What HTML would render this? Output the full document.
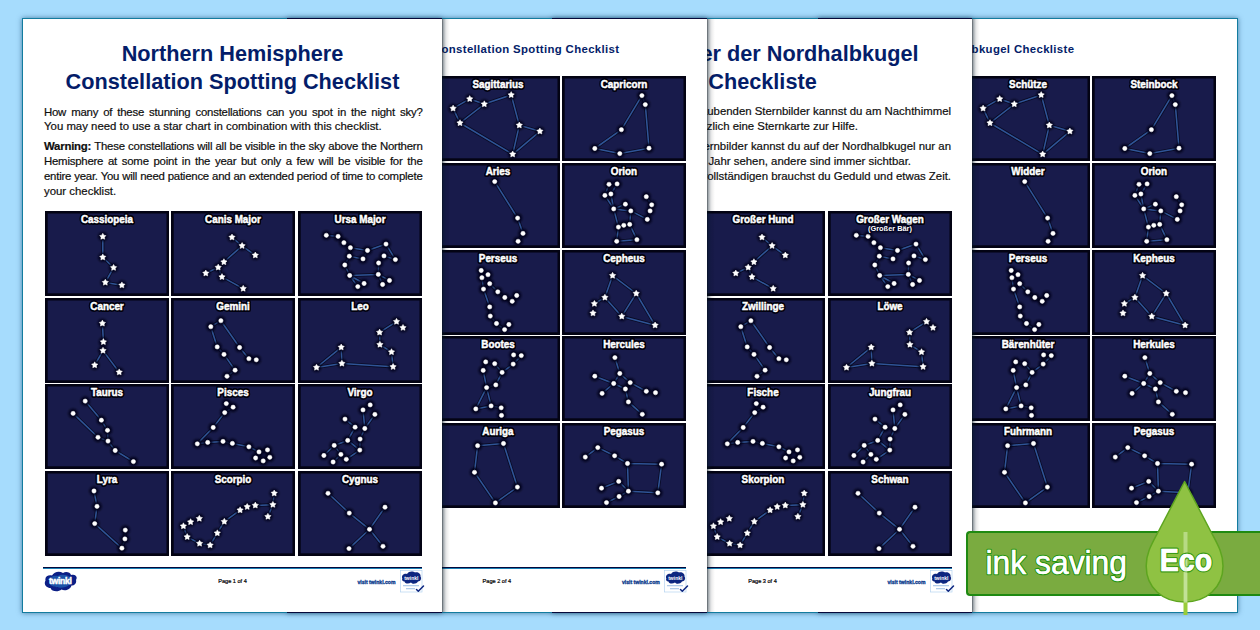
<!DOCTYPE html>
<html><head><meta charset="utf-8"><style>
html,body{margin:0;padding:0;}
body{width:1260px;height:630px;overflow:hidden;position:relative;background:#a6dcfd;font-family:"Liberation Sans",sans-serif;}
.page{position:absolute;top:18px;width:420px;height:595px;background:#fff;box-sizing:border-box;border:1px solid #137c9f;box-shadow:0 0 5px rgba(10,60,100,0.6);overflow:visible;}
.page .sh{position:absolute;top:0;right:-8px;width:8px;height:100%;background:linear-gradient(to right,rgba(0,0,0,0.55),rgba(0,0,0,0.25) 15%,rgba(0,0,0,0.08) 50%,rgba(0,0,0,0));}
.abs{position:absolute;white-space:nowrap;}
.title{font-weight:bold;color:#041d69;font-size:21.7px;line-height:1;}
.para{font-size:11.4px;color:#0e0e0e;line-height:1;-webkit-text-stroke:0.2px #0e0e0e;letter-spacing:-0.22px;}
.hdr{font-weight:bold;color:#041d69;font-size:11.4px;line-height:1;letter-spacing:0.35px;}
.cell{position:absolute;}
.st{fill:#fff;stroke:#fff;stroke-width:0.5;stroke-linejoin:round;}
.lbl{font-family:"Liberation Sans",sans-serif;font-weight:bold;font-size:10.4px;fill:#fff;text-anchor:middle;stroke:#fff;stroke-width:0.45px;}
.lblh{font-family:"Liberation Sans",sans-serif;font-weight:bold;font-size:10.4px;fill:#02030e;text-anchor:middle;stroke:#02030e;stroke-width:4px;stroke-linejoin:round;}
.subh{font-family:"Liberation Sans",sans-serif;font-weight:bold;font-size:7.4px;fill:#03041a;text-anchor:middle;stroke:#03041a;stroke-width:2.8px;stroke-linejoin:round;}
.sub{font-family:"Liberation Sans",sans-serif;font-weight:bold;font-size:7.4px;fill:#fff;text-anchor:middle;}
.fline{position:absolute;height:2px;background:linear-gradient(#05083a 50%,#1a7fb5 50%);}
.pg{position:absolute;font-size:5.6px;color:#000;white-space:nowrap;-webkit-text-stroke:0.2px #000;}
.visit{position:absolute;font-size:5.1px;font-weight:bold;color:#0b3a8c;white-space:nowrap;-webkit-text-stroke:0.3px #0b3a8c;}
</style></head><body>
<svg width="0" height="0" style="position:absolute"><defs><filter id="bl1" x="-50%" y="-50%" width="200%" height="200%"><feGaussianBlur stdDeviation="0.9"/></filter><filter id="bl2" x="-20%" y="-50%" width="140%" height="200%"><feGaussianBlur stdDeviation="0.7"/></filter></defs></svg>

<div class="page" style="left:818px;z-index:1;">
</div>
<div style="position:absolute;left:817.4px;top:0;width:419px;height:630px;z-index:1;pointer-events:none">
<svg class="cell" style="left:148.25px;top:75.80px" width="124" height="85" viewBox="0 0 124 85"><rect x="0" y="0" width="124" height="85" fill="#030313"/><rect x="2.7" y="2.5" width="118.8" height="79.8" fill="#181b4b"/><path d="M75.2 18.9L48.3 28.1 M48.3 28.1L33.7 22.9 M33.7 22.9L17.1 32.4 M17.1 32.4L24.0 47.0 M24.0 47.0L48.3 28.1 M75.2 18.9L83.3 49.3 M83.3 49.3L103.9 55.3 M83.3 49.3L76.7 78.3 M103.9 55.3L76.7 78.3 M24.0 47.0L76.7 78.3" stroke="#05061c" stroke-width="3.2" fill="none" stroke-linecap="round" opacity="0.8"/><path d="M75.2 18.9L48.3 28.1 M48.3 28.1L33.7 22.9 M33.7 22.9L17.1 32.4 M17.1 32.4L24.0 47.0 M24.0 47.0L48.3 28.1 M75.2 18.9L83.3 49.3 M83.3 49.3L103.9 55.3 M83.3 49.3L76.7 78.3 M103.9 55.3L76.7 78.3 M24.0 47.0L76.7 78.3" stroke="#2f5496" stroke-width="1.55" fill="none" stroke-linecap="round"/><g filter="url(#bl1)"><circle cx="75.2" cy="18.9" r="4.6" fill="#03041a"/><circle cx="33.7" cy="22.9" r="4.6" fill="#03041a"/><circle cx="48.3" cy="28.1" r="4.6" fill="#03041a"/><circle cx="17.1" cy="32.4" r="4.6" fill="#03041a"/><circle cx="24.0" cy="47.0" r="4.6" fill="#03041a"/><circle cx="83.3" cy="49.3" r="4.6" fill="#03041a"/><circle cx="103.9" cy="55.3" r="4.6" fill="#03041a"/><circle cx="76.7" cy="78.3" r="4.6" fill="#03041a"/></g><polygon points="75.20,15.60 76.26,17.44 78.34,17.88 76.91,19.46 77.14,21.57 75.20,20.70 73.26,21.57 73.49,19.46 72.06,17.88 74.14,17.44" class="st"/><polygon points="33.70,19.60 34.76,21.44 36.84,21.88 35.41,23.46 35.64,25.57 33.70,24.70 31.76,25.57 31.99,23.46 30.56,21.88 32.64,21.44" class="st"/><polygon points="48.30,24.80 49.36,26.64 51.44,27.08 50.01,28.66 50.24,30.77 48.30,29.90 46.36,30.77 46.59,28.66 45.16,27.08 47.24,26.64" class="st"/><polygon points="17.10,29.10 18.16,30.94 20.24,31.38 18.81,32.96 19.04,35.07 17.10,34.20 15.16,35.07 15.39,32.96 13.96,31.38 16.04,30.94" class="st"/><polygon points="24.00,43.70 25.06,45.54 27.14,45.98 25.71,47.56 25.94,49.67 24.00,48.80 22.06,49.67 22.29,47.56 20.86,45.98 22.94,45.54" class="st"/><polygon points="83.30,46.00 84.36,47.84 86.44,48.28 85.01,49.86 85.24,51.97 83.30,51.10 81.36,51.97 81.59,49.86 80.16,48.28 82.24,47.84" class="st"/><polygon points="103.90,52.00 104.96,53.84 107.04,54.28 105.61,55.86 105.84,57.97 103.90,57.10 101.96,57.97 102.19,55.86 100.76,54.28 102.84,53.84" class="st"/><polygon points="76.70,75.00 77.76,76.84 79.84,77.28 78.41,78.86 78.64,80.97 76.70,80.10 74.76,80.97 74.99,78.86 73.56,77.28 75.64,76.84" class="st"/><g transform="translate(62 0) scale(0.95 1) translate(-62 0)"><text x="62" y="12.1" class="lblh" filter="url(#bl2)">Schütze</text><text x="62" y="12.1" class="lbl">Schütze</text></g></svg>
<svg class="cell" style="left:274.50px;top:75.80px" width="124" height="85" viewBox="0 0 124 85"><rect x="0" y="0" width="124" height="85" fill="#030313"/><rect x="2.7" y="2.5" width="118.8" height="79.8" fill="#181b4b"/><path d="M79.9 19.6L59.4 53.7 M59.4 53.7L32.8 72.5 M32.8 72.5L57.8 77.6 M57.8 77.6L87.0 72.2 M87.0 72.2L83.3 28.6 M83.3 28.6L79.9 19.6" stroke="#05061c" stroke-width="3.2" fill="none" stroke-linecap="round" opacity="0.8"/><path d="M79.9 19.6L59.4 53.7 M59.4 53.7L32.8 72.5 M32.8 72.5L57.8 77.6 M57.8 77.6L87.0 72.2 M87.0 72.2L83.3 28.6 M83.3 28.6L79.9 19.6" stroke="#2f5496" stroke-width="1.55" fill="none" stroke-linecap="round"/><g filter="url(#bl1)"><circle cx="79.9" cy="19.6" r="4.6" fill="#03041a"/><circle cx="83.3" cy="28.6" r="4.6" fill="#03041a"/><circle cx="59.4" cy="53.7" r="4.6" fill="#03041a"/><circle cx="32.8" cy="72.5" r="4.6" fill="#03041a"/><circle cx="57.8" cy="77.6" r="4.6" fill="#03041a"/><circle cx="87.0" cy="72.2" r="4.6" fill="#03041a"/></g><circle cx="79.9" cy="19.6" r="2.15" class="st"/><circle cx="83.3" cy="28.6" r="2.15" class="st"/><circle cx="59.4" cy="53.7" r="2.15" class="st"/><circle cx="32.8" cy="72.5" r="2.15" class="st"/><circle cx="57.8" cy="77.6" r="2.15" class="st"/><circle cx="87.0" cy="72.2" r="2.15" class="st"/><g transform="translate(62 0) scale(0.95 1) translate(-62 0)"><text x="62" y="12.1" class="lblh" filter="url(#bl2)">Steinbock</text><text x="62" y="12.1" class="lbl">Steinbock</text></g></svg>
<svg class="cell" style="left:148.25px;top:162.65px" width="124" height="85" viewBox="0 0 124 85"><rect x="0" y="0" width="124" height="85" fill="#030313"/><rect x="2.7" y="2.5" width="118.8" height="79.8" fill="#181b4b"/><path d="M58.7 18.6L81.6 55.1 M81.6 55.1L87.0 70.4 M87.0 70.4L82.1 78.3" stroke="#05061c" stroke-width="3.2" fill="none" stroke-linecap="round" opacity="0.8"/><path d="M58.7 18.6L81.6 55.1 M81.6 55.1L87.0 70.4 M87.0 70.4L82.1 78.3" stroke="#2f5496" stroke-width="1.55" fill="none" stroke-linecap="round"/><g filter="url(#bl1)"><circle cx="58.7" cy="18.6" r="4.6" fill="#03041a"/><circle cx="81.6" cy="55.1" r="4.6" fill="#03041a"/><circle cx="87.0" cy="70.4" r="4.6" fill="#03041a"/><circle cx="82.1" cy="78.3" r="4.6" fill="#03041a"/></g><circle cx="58.7" cy="18.6" r="2.15" class="st"/><circle cx="81.6" cy="55.1" r="2.15" class="st"/><circle cx="87.0" cy="70.4" r="2.15" class="st"/><circle cx="82.1" cy="78.3" r="2.15" class="st"/><g transform="translate(62 0) scale(0.95 1) translate(-62 0)"><text x="62" y="12.1" class="lblh" filter="url(#bl2)">Widder</text><text x="62" y="12.1" class="lbl">Widder</text></g></svg>
<svg class="cell" style="left:274.50px;top:162.65px" width="124" height="85" viewBox="0 0 124 85"><rect x="0" y="0" width="124" height="85" fill="#030313"/><rect x="2.7" y="2.5" width="118.8" height="79.8" fill="#181b4b"/><path d="M47.0 21.3L55.1 20.9 M47.0 21.3L42.9 32.4 M55.1 20.9L48.9 31.0 M42.9 32.4L51.7 45.9 M48.9 31.0L51.7 45.9 M51.7 45.9L63.4 41.2 M51.7 45.9L68.8 47.9 M68.8 47.9L85.3 56.4 M84.3 33.7L89.7 41.8 M89.7 41.8L88.1 47.9 M88.1 47.9L85.3 56.4 M51.7 45.9L56.4 64.1 M68.8 47.9L67.7 61.4 M56.4 64.1L54.7 78.3 M67.7 61.4L74.9 76.7 M54.7 78.3L74.9 76.7" stroke="#05061c" stroke-width="3.2" fill="none" stroke-linecap="round" opacity="0.8"/><path d="M47.0 21.3L55.1 20.9 M47.0 21.3L42.9 32.4 M55.1 20.9L48.9 31.0 M42.9 32.4L51.7 45.9 M48.9 31.0L51.7 45.9 M51.7 45.9L63.4 41.2 M51.7 45.9L68.8 47.9 M68.8 47.9L85.3 56.4 M84.3 33.7L89.7 41.8 M89.7 41.8L88.1 47.9 M88.1 47.9L85.3 56.4 M51.7 45.9L56.4 64.1 M68.8 47.9L67.7 61.4 M56.4 64.1L54.7 78.3 M67.7 61.4L74.9 76.7 M54.7 78.3L74.9 76.7" stroke="#2f5496" stroke-width="1.55" fill="none" stroke-linecap="round"/><g filter="url(#bl1)"><circle cx="47.0" cy="21.3" r="4.6" fill="#03041a"/><circle cx="55.1" cy="20.9" r="4.6" fill="#03041a"/><circle cx="42.9" cy="32.4" r="4.6" fill="#03041a"/><circle cx="48.9" cy="31.0" r="4.6" fill="#03041a"/><circle cx="51.7" cy="45.9" r="4.6" fill="#03041a"/><circle cx="63.4" cy="41.2" r="4.6" fill="#03041a"/><circle cx="68.8" cy="47.9" r="4.6" fill="#03041a"/><circle cx="84.3" cy="33.7" r="4.6" fill="#03041a"/><circle cx="89.7" cy="41.8" r="4.6" fill="#03041a"/><circle cx="88.1" cy="47.9" r="4.6" fill="#03041a"/><circle cx="85.3" cy="56.4" r="4.6" fill="#03041a"/><circle cx="56.4" cy="64.1" r="4.6" fill="#03041a"/><circle cx="61.8" cy="62.3" r="4.6" fill="#03041a"/><circle cx="67.7" cy="61.4" r="4.6" fill="#03041a"/><circle cx="54.7" cy="78.3" r="4.6" fill="#03041a"/><circle cx="74.9" cy="76.7" r="4.6" fill="#03041a"/></g><circle cx="47.0" cy="21.3" r="2.15" class="st"/><circle cx="55.1" cy="20.9" r="2.15" class="st"/><circle cx="42.9" cy="32.4" r="2.15" class="st"/><circle cx="48.9" cy="31.0" r="2.15" class="st"/><circle cx="51.7" cy="45.9" r="2.15" class="st"/><circle cx="63.4" cy="41.2" r="2.15" class="st"/><circle cx="68.8" cy="47.9" r="2.15" class="st"/><circle cx="84.3" cy="33.7" r="2.15" class="st"/><circle cx="89.7" cy="41.8" r="2.15" class="st"/><circle cx="88.1" cy="47.9" r="2.15" class="st"/><circle cx="85.3" cy="56.4" r="2.15" class="st"/><circle cx="56.4" cy="64.1" r="2.15" class="st"/><circle cx="61.8" cy="62.3" r="2.15" class="st"/><circle cx="67.7" cy="61.4" r="2.15" class="st"/><circle cx="54.7" cy="78.3" r="2.15" class="st"/><circle cx="74.9" cy="76.7" r="2.15" class="st"/><g transform="translate(62 0) scale(0.95 1) translate(-62 0)"><text x="62" y="12.1" class="lblh" filter="url(#bl2)">Orion</text><text x="62" y="12.1" class="lbl">Orion</text></g></svg>
<svg class="cell" style="left:148.25px;top:249.50px" width="124" height="85" viewBox="0 0 124 85"><rect x="0" y="0" width="124" height="85" fill="#030313"/><rect x="2.7" y="2.5" width="118.8" height="79.8" fill="#181b4b"/><path d="M52.0 24.7L53.7 33.7 M53.7 33.7L61.8 41.8 M61.8 41.8L68.8 47.5 M68.8 47.5L76.2 51.3 M76.2 51.3L80.7 45.5 M45.9 27.7L47.5 39.1 M47.5 39.1L53.7 56.9 M53.7 56.9L54.3 66.1 M54.3 66.1L60.5 73.5 M60.5 73.5L68.6 79.6 M68.6 79.6L72.9 74.5" stroke="#05061c" stroke-width="3.2" fill="none" stroke-linecap="round" opacity="0.8"/><path d="M52.0 24.7L53.7 33.7 M53.7 33.7L61.8 41.8 M61.8 41.8L68.8 47.5 M68.8 47.5L76.2 51.3 M76.2 51.3L80.7 45.5 M45.9 27.7L47.5 39.1 M47.5 39.1L53.7 56.9 M53.7 56.9L54.3 66.1 M54.3 66.1L60.5 73.5 M60.5 73.5L68.6 79.6 M68.6 79.6L72.9 74.5" stroke="#2f5496" stroke-width="1.55" fill="none" stroke-linecap="round"/><g filter="url(#bl1)"><circle cx="45.2" cy="20.5" r="4.6" fill="#03041a"/><circle cx="45.9" cy="27.7" r="4.6" fill="#03041a"/><circle cx="52.0" cy="24.7" r="4.6" fill="#03041a"/><circle cx="53.7" cy="33.7" r="4.6" fill="#03041a"/><circle cx="47.5" cy="39.1" r="4.6" fill="#03041a"/><circle cx="61.8" cy="41.8" r="4.6" fill="#03041a"/><circle cx="68.8" cy="47.5" r="4.6" fill="#03041a"/><circle cx="76.2" cy="51.3" r="4.6" fill="#03041a"/><circle cx="80.7" cy="45.5" r="4.6" fill="#03041a"/><circle cx="53.7" cy="56.9" r="4.6" fill="#03041a"/><circle cx="54.3" cy="66.1" r="4.6" fill="#03041a"/><circle cx="60.5" cy="73.5" r="4.6" fill="#03041a"/><circle cx="68.6" cy="79.6" r="4.6" fill="#03041a"/><circle cx="72.9" cy="74.5" r="4.6" fill="#03041a"/></g><circle cx="45.2" cy="20.5" r="2.15" class="st"/><circle cx="45.9" cy="27.7" r="2.15" class="st"/><circle cx="52.0" cy="24.7" r="2.15" class="st"/><circle cx="53.7" cy="33.7" r="2.15" class="st"/><circle cx="47.5" cy="39.1" r="2.15" class="st"/><circle cx="61.8" cy="41.8" r="2.15" class="st"/><circle cx="68.8" cy="47.5" r="2.15" class="st"/><circle cx="76.2" cy="51.3" r="2.15" class="st"/><circle cx="80.7" cy="45.5" r="2.15" class="st"/><circle cx="53.7" cy="56.9" r="2.15" class="st"/><circle cx="54.3" cy="66.1" r="2.15" class="st"/><circle cx="60.5" cy="73.5" r="2.15" class="st"/><circle cx="68.6" cy="79.6" r="2.15" class="st"/><circle cx="72.9" cy="74.5" r="2.15" class="st"/><g transform="translate(62 0) scale(0.95 1) translate(-62 0)"><text x="62" y="12.1" class="lblh" filter="url(#bl2)">Perseus</text><text x="62" y="12.1" class="lbl">Perseus</text></g></svg>
<svg class="cell" style="left:274.50px;top:249.50px" width="124" height="85" viewBox="0 0 124 85"><rect x="0" y="0" width="124" height="85" fill="#030313"/><rect x="2.7" y="2.5" width="118.8" height="79.8" fill="#181b4b"/><path d="M50.6 25.6L74.2 43.5 M50.6 25.6L42.9 47.5 M42.9 47.5L32.4 53.7 M42.9 47.5L59.8 66.4 M59.8 66.4L74.2 43.5 M74.2 43.5L93.1 75.3 M59.8 66.4L93.1 75.3" stroke="#05061c" stroke-width="3.2" fill="none" stroke-linecap="round" opacity="0.8"/><path d="M50.6 25.6L74.2 43.5 M50.6 25.6L42.9 47.5 M42.9 47.5L32.4 53.7 M42.9 47.5L59.8 66.4 M59.8 66.4L74.2 43.5 M74.2 43.5L93.1 75.3 M59.8 66.4L93.1 75.3" stroke="#2f5496" stroke-width="1.55" fill="none" stroke-linecap="round"/><g filter="url(#bl1)"><circle cx="50.6" cy="25.6" r="4.6" fill="#03041a"/><circle cx="74.2" cy="43.5" r="4.6" fill="#03041a"/><circle cx="42.9" cy="47.5" r="4.6" fill="#03041a"/><circle cx="32.4" cy="53.7" r="4.6" fill="#03041a"/><circle cx="31.0" cy="63.2" r="4.6" fill="#03041a"/><circle cx="59.8" cy="66.4" r="4.6" fill="#03041a"/><circle cx="93.1" cy="75.3" r="4.6" fill="#03041a"/></g><polygon points="50.60,22.30 51.66,24.14 53.74,24.58 52.31,26.16 52.54,28.27 50.60,27.40 48.66,28.27 48.89,26.16 47.46,24.58 49.54,24.14" class="st"/><polygon points="74.20,40.20 75.26,42.04 77.34,42.48 75.91,44.06 76.14,46.17 74.20,45.30 72.26,46.17 72.49,44.06 71.06,42.48 73.14,42.04" class="st"/><polygon points="42.90,44.20 43.96,46.04 46.04,46.48 44.61,48.06 44.84,50.17 42.90,49.30 40.96,50.17 41.19,48.06 39.76,46.48 41.84,46.04" class="st"/><polygon points="32.40,50.40 33.46,52.24 35.54,52.68 34.11,54.26 34.34,56.37 32.40,55.50 30.46,56.37 30.69,54.26 29.26,52.68 31.34,52.24" class="st"/><polygon points="31.00,59.90 32.06,61.74 34.14,62.18 32.71,63.76 32.94,65.87 31.00,65.00 29.06,65.87 29.29,63.76 27.86,62.18 29.94,61.74" class="st"/><polygon points="59.80,63.10 60.86,64.94 62.94,65.38 61.51,66.96 61.74,69.07 59.80,68.20 57.86,69.07 58.09,66.96 56.66,65.38 58.74,64.94" class="st"/><polygon points="93.10,72.00 94.16,73.84 96.24,74.28 94.81,75.86 95.04,77.97 93.10,77.10 91.16,77.97 91.39,75.86 89.96,74.28 92.04,73.84" class="st"/><g transform="translate(62 0) scale(0.95 1) translate(-62 0)"><text x="62" y="12.1" class="lblh" filter="url(#bl2)">Kepheus</text><text x="62" y="12.1" class="lbl">Kepheus</text></g></svg>
<svg class="cell" style="left:148.25px;top:336.35px" width="124" height="85" viewBox="0 0 124 85"><rect x="0" y="0" width="124" height="85" fill="#030313"/><rect x="2.7" y="2.5" width="118.8" height="79.8" fill="#181b4b"/><path d="M85.3 19.6L77.2 28.1 M77.2 28.1L66.1 36.4 M66.1 36.4L58.7 27.7 M58.7 27.7L49.7 25.9 M49.7 25.9L47.2 34.4 M47.2 34.4L50.6 51.6 M66.1 36.4L59.8 48.9 M59.8 48.9L50.6 51.6 M50.6 51.6L39.8 72.9 M50.6 51.6L55.1 69.9 M39.8 72.9L55.1 69.9 M55.1 69.9L65.2 71.8 M65.2 71.8L65.5 79.4" stroke="#05061c" stroke-width="3.2" fill="none" stroke-linecap="round" opacity="0.8"/><path d="M85.3 19.6L77.2 28.1 M77.2 28.1L66.1 36.4 M66.1 36.4L58.7 27.7 M58.7 27.7L49.7 25.9 M49.7 25.9L47.2 34.4 M47.2 34.4L50.6 51.6 M66.1 36.4L59.8 48.9 M59.8 48.9L50.6 51.6 M50.6 51.6L39.8 72.9 M50.6 51.6L55.1 69.9 M39.8 72.9L55.1 69.9 M55.1 69.9L65.2 71.8 M65.2 71.8L65.5 79.4" stroke="#2f5496" stroke-width="1.55" fill="none" stroke-linecap="round"/><g filter="url(#bl1)"><circle cx="77.6" cy="18.9" r="4.6" fill="#03041a"/><circle cx="85.3" cy="19.6" r="4.6" fill="#03041a"/><circle cx="77.2" cy="28.1" r="4.6" fill="#03041a"/><circle cx="66.1" cy="36.4" r="4.6" fill="#03041a"/><circle cx="58.7" cy="27.7" r="4.6" fill="#03041a"/><circle cx="49.7" cy="25.9" r="4.6" fill="#03041a"/><circle cx="47.2" cy="34.4" r="4.6" fill="#03041a"/><circle cx="59.8" cy="48.9" r="4.6" fill="#03041a"/><circle cx="50.6" cy="51.6" r="4.6" fill="#03041a"/><circle cx="39.8" cy="72.9" r="4.6" fill="#03041a"/><circle cx="55.1" cy="69.9" r="4.6" fill="#03041a"/><circle cx="65.2" cy="71.8" r="4.6" fill="#03041a"/><circle cx="65.5" cy="79.4" r="4.6" fill="#03041a"/></g><circle cx="77.6" cy="18.9" r="2.15" class="st"/><circle cx="85.3" cy="19.6" r="2.15" class="st"/><circle cx="77.2" cy="28.1" r="2.15" class="st"/><circle cx="66.1" cy="36.4" r="2.15" class="st"/><circle cx="58.7" cy="27.7" r="2.15" class="st"/><circle cx="49.7" cy="25.9" r="2.15" class="st"/><circle cx="47.2" cy="34.4" r="2.15" class="st"/><circle cx="59.8" cy="48.9" r="2.15" class="st"/><circle cx="50.6" cy="51.6" r="2.15" class="st"/><circle cx="39.8" cy="72.9" r="2.15" class="st"/><circle cx="55.1" cy="69.9" r="2.15" class="st"/><circle cx="65.2" cy="71.8" r="2.15" class="st"/><circle cx="65.5" cy="79.4" r="2.15" class="st"/><g transform="translate(62 0) scale(0.95 1) translate(-62 0)"><text x="62" y="12.1" class="lblh" filter="url(#bl2)">Bärenhüter</text><text x="62" y="12.1" class="lbl">Bärenhüter</text></g></svg>
<svg class="cell" style="left:274.50px;top:336.35px" width="124" height="85" viewBox="0 0 124 85"><rect x="0" y="0" width="124" height="85" fill="#030313"/><rect x="2.7" y="2.5" width="118.8" height="79.8" fill="#181b4b"/><path d="M52.9 21.6L57.8 37.5 M57.8 37.5L51.7 47.5 M57.8 37.5L68.2 46.6 M32.8 40.2L51.7 47.5 M51.7 47.5L63.4 53.0 M51.7 47.5L40.1 57.4 M68.2 46.6L63.4 53.0 M68.2 46.6L84.3 55.3 M63.4 53.0L66.4 65.9 M66.4 65.9L80.3 78.3" stroke="#05061c" stroke-width="3.2" fill="none" stroke-linecap="round" opacity="0.8"/><path d="M52.9 21.6L57.8 37.5 M57.8 37.5L51.7 47.5 M57.8 37.5L68.2 46.6 M32.8 40.2L51.7 47.5 M51.7 47.5L63.4 53.0 M51.7 47.5L40.1 57.4 M68.2 46.6L63.4 53.0 M68.2 46.6L84.3 55.3 M63.4 53.0L66.4 65.9 M66.4 65.9L80.3 78.3" stroke="#2f5496" stroke-width="1.55" fill="none" stroke-linecap="round"/><g filter="url(#bl1)"><circle cx="52.9" cy="21.6" r="4.6" fill="#03041a"/><circle cx="57.8" cy="37.5" r="4.6" fill="#03041a"/><circle cx="32.8" cy="40.2" r="4.6" fill="#03041a"/><circle cx="51.7" cy="47.5" r="4.6" fill="#03041a"/><circle cx="68.2" cy="46.6" r="4.6" fill="#03041a"/><circle cx="63.4" cy="53.0" r="4.6" fill="#03041a"/><circle cx="40.1" cy="57.4" r="4.6" fill="#03041a"/><circle cx="84.3" cy="55.3" r="4.6" fill="#03041a"/><circle cx="93.5" cy="56.7" r="4.6" fill="#03041a"/><circle cx="66.4" cy="65.9" r="4.6" fill="#03041a"/><circle cx="80.3" cy="78.3" r="4.6" fill="#03041a"/></g><circle cx="52.9" cy="21.6" r="2.15" class="st"/><circle cx="57.8" cy="37.5" r="2.15" class="st"/><circle cx="32.8" cy="40.2" r="2.15" class="st"/><circle cx="51.7" cy="47.5" r="2.15" class="st"/><circle cx="68.2" cy="46.6" r="2.15" class="st"/><circle cx="63.4" cy="53.0" r="2.15" class="st"/><circle cx="40.1" cy="57.4" r="2.15" class="st"/><circle cx="84.3" cy="55.3" r="2.15" class="st"/><circle cx="93.5" cy="56.7" r="2.15" class="st"/><circle cx="66.4" cy="65.9" r="2.15" class="st"/><circle cx="80.3" cy="78.3" r="2.15" class="st"/><g transform="translate(62 0) scale(0.95 1) translate(-62 0)"><text x="62" y="12.1" class="lblh" filter="url(#bl2)">Herkules</text><text x="62" y="12.1" class="lbl">Herkules</text></g></svg>
<svg class="cell" style="left:148.25px;top:423.20px" width="124" height="85" viewBox="0 0 124 85"><rect x="0" y="0" width="124" height="85" fill="#030313"/><rect x="2.7" y="2.5" width="118.8" height="79.8" fill="#181b4b"/><path d="M41.6 22.7L67.5 20.5 M41.6 22.7L38.5 49.3 M38.5 49.3L59.4 79.9 M59.4 79.9L81.4 64.1 M81.4 64.1L67.5 20.5" stroke="#05061c" stroke-width="3.2" fill="none" stroke-linecap="round" opacity="0.8"/><path d="M41.6 22.7L67.5 20.5 M41.6 22.7L38.5 49.3 M38.5 49.3L59.4 79.9 M59.4 79.9L81.4 64.1 M81.4 64.1L67.5 20.5" stroke="#2f5496" stroke-width="1.55" fill="none" stroke-linecap="round"/><g filter="url(#bl1)"><circle cx="41.6" cy="22.7" r="4.6" fill="#03041a"/><circle cx="67.5" cy="20.5" r="4.6" fill="#03041a"/><circle cx="38.5" cy="49.3" r="4.6" fill="#03041a"/><circle cx="81.4" cy="64.1" r="4.6" fill="#03041a"/><circle cx="59.4" cy="79.9" r="4.6" fill="#03041a"/></g><circle cx="41.6" cy="22.7" r="2.15" class="st"/><circle cx="67.5" cy="20.5" r="2.15" class="st"/><circle cx="38.5" cy="49.3" r="2.15" class="st"/><circle cx="81.4" cy="64.1" r="2.15" class="st"/><circle cx="59.4" cy="79.9" r="2.15" class="st"/><g transform="translate(62 0) scale(0.95 1) translate(-62 0)"><text x="62" y="12.1" class="lblh" filter="url(#bl2)">Fuhrmann</text><text x="62" y="12.1" class="lbl">Fuhrmann</text></g></svg>
<svg class="cell" style="left:274.50px;top:423.20px" width="124" height="85" viewBox="0 0 124 85"><rect x="0" y="0" width="124" height="85" fill="#030313"/><rect x="2.7" y="2.5" width="118.8" height="79.8" fill="#181b4b"/><path d="M23.3 34.1L35.8 24.6 M35.8 24.6L52.6 32.8 M52.6 32.8L65.5 40.5 M65.5 40.5L99.6 41.2 M99.6 41.2L95.8 69.8 M95.8 69.8L66.4 68.2 M66.4 68.2L65.5 40.5 M66.4 68.2L56.7 58.4 M56.7 58.4L39.5 65.2 M66.4 68.2L57.1 73.5 M57.1 73.5L44.5 79.6" stroke="#05061c" stroke-width="3.2" fill="none" stroke-linecap="round" opacity="0.8"/><path d="M23.3 34.1L35.8 24.6 M35.8 24.6L52.6 32.8 M52.6 32.8L65.5 40.5 M65.5 40.5L99.6 41.2 M99.6 41.2L95.8 69.8 M95.8 69.8L66.4 68.2 M66.4 68.2L65.5 40.5 M66.4 68.2L56.7 58.4 M56.7 58.4L39.5 65.2 M66.4 68.2L57.1 73.5 M57.1 73.5L44.5 79.6" stroke="#2f5496" stroke-width="1.55" fill="none" stroke-linecap="round"/><g filter="url(#bl1)"><circle cx="23.3" cy="34.1" r="4.6" fill="#03041a"/><circle cx="35.8" cy="24.6" r="4.6" fill="#03041a"/><circle cx="52.6" cy="32.8" r="4.6" fill="#03041a"/><circle cx="65.5" cy="40.5" r="4.6" fill="#03041a"/><circle cx="99.6" cy="41.2" r="4.6" fill="#03041a"/><circle cx="95.8" cy="69.8" r="4.6" fill="#03041a"/><circle cx="66.4" cy="68.2" r="4.6" fill="#03041a"/><circle cx="56.7" cy="58.4" r="4.6" fill="#03041a"/><circle cx="39.5" cy="65.2" r="4.6" fill="#03041a"/><circle cx="57.1" cy="73.5" r="4.6" fill="#03041a"/><circle cx="44.5" cy="79.6" r="4.6" fill="#03041a"/></g><circle cx="23.3" cy="34.1" r="2.15" class="st"/><circle cx="35.8" cy="24.6" r="2.15" class="st"/><circle cx="52.6" cy="32.8" r="2.15" class="st"/><circle cx="65.5" cy="40.5" r="2.15" class="st"/><circle cx="99.6" cy="41.2" r="2.15" class="st"/><circle cx="95.8" cy="69.8" r="2.15" class="st"/><circle cx="66.4" cy="68.2" r="2.15" class="st"/><circle cx="56.7" cy="58.4" r="2.15" class="st"/><circle cx="39.5" cy="65.2" r="2.15" class="st"/><circle cx="57.1" cy="73.5" r="2.15" class="st"/><circle cx="44.5" cy="79.6" r="2.15" class="st"/><g transform="translate(62 0) scale(0.95 1) translate(-62 0)"><text x="62" y="12.1" class="lblh" filter="url(#bl2)">Pegasus</text><text x="62" y="12.1" class="lbl">Pegasus</text></g></svg>
<div class="abs hdr" style="top:43.65px;right:162.00px;">Sternbilder der Nordhalbkugel Checkliste</div>
<div class="fline" style="left:20px;top:567px;width:379px"></div>
<div class="pg" style="left:0;width:419px;text-align:center;top:578px">Page 4 of 4</div>
<div class="visit" style="left:334.5px;top:579px">visit twinkl.com</div>
<svg style="position:absolute;left:20.5px;top:570.5px" width="34" height="22" viewBox="0 0 34 22">
<path d="M1.5 9.5 C0.5 5.5 4.5 3.5 8 4.5 C10 1 15 -0.5 19 2 C22 0 26.5 1.5 27 4 C31.5 2.5 34 6 32 9 C33 12.5 30 15 27.5 14.5 C26.5 18.5 21 20.5 17.5 18.5 C14 21.5 7.5 20.5 6.5 17 C2 17 -0.5 13 1.5 9.5 Z" fill="#0c1f86"/>
<path d="M5 10 C5 6 10 4 14 5 C17 3 24 3.5 26 6.5 C29 8 28.5 13 25 14 C22 17 14 17.5 11 15.5 C7 15.5 5 13 5 10Z" fill="#1b52a8"/>
<text x="16.3" y="13" font-family="Liberation Sans" font-weight="bold" font-size="8.6" fill="#fff" stroke="#fff" stroke-width="0.45" text-anchor="middle" letter-spacing="-0.3">twinkl</text>
</svg>
<svg style="position:absolute;left:377px;top:570px" width="25" height="23" viewBox="0 0 25 23">
<rect x="0.5" y="0.5" width="21.5" height="21.5" fill="#fff" stroke="#b5d3ef" stroke-width="0.7"/>
<path d="M2.3 8.5 C1 5.5 4 3 7 4 C8.5 1 13 0.8 15 2.5 C17.5 1.5 21 3.5 20.5 6.5 C22 8.5 20.5 11.5 18 11.5 C16.5 14 12.5 14.5 11 12.5 C8.5 14.5 4.5 13.5 4.5 11.5 C2.5 11.5 1.5 10 2.3 8.5Z" fill="#0d2680"/>
<text x="11.3" y="9.6" font-family="Liberation Sans" font-weight="bold" font-size="5" fill="#fff" text-anchor="middle">twinkl</text>
<rect x="3" y="15.3" width="16" height="0.9" fill="#8fb5e0"/>
<rect x="6" y="18.3" width="9" height="0.9" fill="#8fb5e0"/>
<path d="M16.5 19.5 L18.3 21.3 L23.5 16" stroke="#0d2680" stroke-width="1.5" fill="none" stroke-linecap="round" stroke-linejoin="round"/>
</svg>
</div>
<div class="page" style="left:552px;z-index:2;border-right:none;">
<div class="sh"></div>
</div>
<div style="position:absolute;left:553px;top:0;width:419px;height:630px;z-index:2;pointer-events:none">
<svg class="cell" style="left:148.25px;top:210.75px" width="124" height="85" viewBox="0 0 124 85"><rect x="0" y="0" width="124" height="85" fill="#030313"/><rect x="2.7" y="2.5" width="118.8" height="79.8" fill="#181b4b"/><path d="M61.0 26.3L71.1 34.8 M71.1 34.8L84.3 44.3 M71.1 34.8L52.9 51.0 M52.9 51.0L47.2 56.4 M47.2 56.4L34.8 62.3 M47.2 56.4L51.0 65.9 M51.0 65.9L72.2 77.6" stroke="#05061c" stroke-width="3.2" fill="none" stroke-linecap="round" opacity="0.8"/><path d="M61.0 26.3L71.1 34.8 M71.1 34.8L84.3 44.3 M71.1 34.8L52.9 51.0 M52.9 51.0L47.2 56.4 M47.2 56.4L34.8 62.3 M47.2 56.4L51.0 65.9 M51.0 65.9L72.2 77.6" stroke="#2f5496" stroke-width="1.55" fill="none" stroke-linecap="round"/><g filter="url(#bl1)"><circle cx="61.0" cy="26.3" r="4.6" fill="#03041a"/><circle cx="71.1" cy="34.8" r="4.6" fill="#03041a"/><circle cx="84.3" cy="44.3" r="4.6" fill="#03041a"/><circle cx="52.9" cy="51.0" r="4.6" fill="#03041a"/><circle cx="47.2" cy="56.4" r="4.6" fill="#03041a"/><circle cx="34.8" cy="62.3" r="4.6" fill="#03041a"/><circle cx="51.0" cy="65.9" r="4.6" fill="#03041a"/><circle cx="72.2" cy="77.6" r="4.6" fill="#03041a"/></g><polygon points="61.00,23.00 62.06,24.84 64.14,25.28 62.71,26.86 62.94,28.97 61.00,28.10 59.06,28.97 59.29,26.86 57.86,25.28 59.94,24.84" class="st"/><polygon points="71.10,31.50 72.16,33.34 74.24,33.78 72.81,35.36 73.04,37.47 71.10,36.60 69.16,37.47 69.39,35.36 67.96,33.78 70.04,33.34" class="st"/><polygon points="84.30,41.00 85.36,42.84 87.44,43.28 86.01,44.86 86.24,46.97 84.30,46.10 82.36,46.97 82.59,44.86 81.16,43.28 83.24,42.84" class="st"/><polygon points="52.90,47.70 53.96,49.54 56.04,49.98 54.61,51.56 54.84,53.67 52.90,52.80 50.96,53.67 51.19,51.56 49.76,49.98 51.84,49.54" class="st"/><polygon points="47.20,53.10 48.26,54.94 50.34,55.38 48.91,56.96 49.14,59.07 47.20,58.20 45.26,59.07 45.49,56.96 44.06,55.38 46.14,54.94" class="st"/><polygon points="34.80,59.00 35.86,60.84 37.94,61.28 36.51,62.86 36.74,64.97 34.80,64.10 32.86,64.97 33.09,62.86 31.66,61.28 33.74,60.84" class="st"/><polygon points="51.00,62.60 52.06,64.44 54.14,64.88 52.71,66.46 52.94,68.57 51.00,67.70 49.06,68.57 49.29,66.46 47.86,64.88 49.94,64.44" class="st"/><polygon points="72.20,74.30 73.26,76.14 75.34,76.58 73.91,78.16 74.14,80.27 72.20,79.40 70.26,80.27 70.49,78.16 69.06,76.58 71.14,76.14" class="st"/><g transform="translate(62 0) scale(0.95 1) translate(-62 0)"><text x="62" y="12.1" class="lblh" filter="url(#bl2)">Großer Hund</text><text x="62" y="12.1" class="lbl">Großer Hund</text></g></svg>
<svg class="cell" style="left:274.50px;top:210.75px" width="124" height="85" viewBox="0 0 124 85"><rect x="0" y="0" width="124" height="85" fill="#030313"/><rect x="2.7" y="2.5" width="118.8" height="79.8" fill="#181b4b"/><path d="M28.3 24.3L40.1 25.4 M40.1 25.4L45.9 31.7 M45.9 31.7L52.4 36.7 M52.4 36.7L69.5 39.5 M69.5 39.5L88.0 33.1 M88.0 33.1L97.4 48.6 M86.0 44.9L97.4 48.6 M69.5 39.5L65.0 47.9 M51.3 45.2L65.0 47.9 M52.4 36.7L51.3 45.2 M51.3 45.2L46.8 54.0 M46.8 54.0L51.7 64.5 M51.7 64.5L80.3 63.4 M80.3 63.4L80.6 52.0 M51.7 64.5L59.8 75.6 M51.7 64.5L66.1 72.5 M80.3 63.4L84.6 73.5 M80.3 63.4L91.5 69.5" stroke="#05061c" stroke-width="3.2" fill="none" stroke-linecap="round" opacity="0.8"/><path d="M28.3 24.3L40.1 25.4 M40.1 25.4L45.9 31.7 M45.9 31.7L52.4 36.7 M52.4 36.7L69.5 39.5 M69.5 39.5L88.0 33.1 M88.0 33.1L97.4 48.6 M86.0 44.9L97.4 48.6 M69.5 39.5L65.0 47.9 M51.3 45.2L65.0 47.9 M52.4 36.7L51.3 45.2 M51.3 45.2L46.8 54.0 M46.8 54.0L51.7 64.5 M51.7 64.5L80.3 63.4 M80.3 63.4L80.6 52.0 M51.7 64.5L59.8 75.6 M51.7 64.5L66.1 72.5 M80.3 63.4L84.6 73.5 M80.3 63.4L91.5 69.5" stroke="#2f5496" stroke-width="1.55" fill="none" stroke-linecap="round"/><g filter="url(#bl1)"><circle cx="28.3" cy="24.3" r="4.6" fill="#03041a"/><circle cx="40.1" cy="25.4" r="4.6" fill="#03041a"/><circle cx="45.9" cy="31.7" r="4.6" fill="#03041a"/><circle cx="52.4" cy="36.7" r="4.6" fill="#03041a"/><circle cx="69.5" cy="39.5" r="4.6" fill="#03041a"/><circle cx="88.0" cy="33.1" r="4.6" fill="#03041a"/><circle cx="97.4" cy="48.6" r="4.6" fill="#03041a"/><circle cx="86.0" cy="44.9" r="4.6" fill="#03041a"/><circle cx="51.3" cy="45.2" r="4.6" fill="#03041a"/><circle cx="65.0" cy="47.9" r="4.6" fill="#03041a"/><circle cx="46.8" cy="54.0" r="4.6" fill="#03041a"/><circle cx="80.6" cy="52.0" r="4.6" fill="#03041a"/><circle cx="51.7" cy="64.5" r="4.6" fill="#03041a"/><circle cx="80.3" cy="63.4" r="4.6" fill="#03041a"/><circle cx="59.8" cy="75.6" r="4.6" fill="#03041a"/><circle cx="66.1" cy="72.5" r="4.6" fill="#03041a"/><circle cx="84.6" cy="73.5" r="4.6" fill="#03041a"/><circle cx="91.5" cy="69.5" r="4.6" fill="#03041a"/></g><circle cx="28.3" cy="24.3" r="2.15" class="st"/><circle cx="40.1" cy="25.4" r="2.15" class="st"/><circle cx="45.9" cy="31.7" r="2.15" class="st"/><circle cx="52.4" cy="36.7" r="2.15" class="st"/><circle cx="69.5" cy="39.5" r="2.15" class="st"/><circle cx="88.0" cy="33.1" r="2.15" class="st"/><circle cx="97.4" cy="48.6" r="2.15" class="st"/><circle cx="86.0" cy="44.9" r="2.15" class="st"/><circle cx="51.3" cy="45.2" r="2.15" class="st"/><circle cx="65.0" cy="47.9" r="2.15" class="st"/><circle cx="46.8" cy="54.0" r="2.15" class="st"/><circle cx="80.6" cy="52.0" r="2.15" class="st"/><circle cx="51.7" cy="64.5" r="2.15" class="st"/><circle cx="80.3" cy="63.4" r="2.15" class="st"/><circle cx="59.8" cy="75.6" r="2.15" class="st"/><circle cx="66.1" cy="72.5" r="2.15" class="st"/><circle cx="84.6" cy="73.5" r="2.15" class="st"/><circle cx="91.5" cy="69.5" r="2.15" class="st"/><g transform="translate(62 0) scale(0.95 1) translate(-62 0)"><text x="62" y="12.1" class="lblh" filter="url(#bl2)">Großer Wagen</text><text x="62" y="12.1" class="lbl">Großer Wagen</text></g><text x="62" y="20" class="subh" filter="url(#bl1)">(Großer Bär)</text><text x="62" y="20" class="sub">(Großer Bär)</text></svg>
<svg class="cell" style="left:148.25px;top:297.60px" width="124" height="85" viewBox="0 0 124 85"><rect x="0" y="0" width="124" height="85" fill="#030313"/><rect x="2.7" y="2.5" width="118.8" height="79.8" fill="#181b4b"/><path d="M49.9 22.7L39.8 28.7 M39.8 28.7L46.2 48.9 M46.2 48.9L53.0 56.4 M53.0 56.4L64.1 72.2 M64.1 72.2L56.0 78.3 M49.9 22.7L68.6 49.5 M68.6 49.5L77.9 60.7" stroke="#05061c" stroke-width="3.2" fill="none" stroke-linecap="round" opacity="0.8"/><path d="M49.9 22.7L39.8 28.7 M39.8 28.7L46.2 48.9 M46.2 48.9L53.0 56.4 M53.0 56.4L64.1 72.2 M64.1 72.2L56.0 78.3 M49.9 22.7L68.6 49.5 M68.6 49.5L77.9 60.7" stroke="#2f5496" stroke-width="1.55" fill="none" stroke-linecap="round"/><g filter="url(#bl1)"><circle cx="49.9" cy="22.7" r="4.6" fill="#03041a"/><circle cx="39.8" cy="28.7" r="4.6" fill="#03041a"/><circle cx="46.2" cy="48.9" r="4.6" fill="#03041a"/><circle cx="53.0" cy="56.4" r="4.6" fill="#03041a"/><circle cx="64.1" cy="72.2" r="4.6" fill="#03041a"/><circle cx="56.0" cy="78.3" r="4.6" fill="#03041a"/><circle cx="68.6" cy="49.5" r="4.6" fill="#03041a"/><circle cx="77.9" cy="60.7" r="4.6" fill="#03041a"/><circle cx="85.3" cy="61.8" r="4.6" fill="#03041a"/></g><circle cx="49.9" cy="22.7" r="2.15" class="st"/><circle cx="39.8" cy="28.7" r="2.15" class="st"/><circle cx="46.2" cy="48.9" r="2.15" class="st"/><circle cx="53.0" cy="56.4" r="2.15" class="st"/><circle cx="64.1" cy="72.2" r="2.15" class="st"/><circle cx="56.0" cy="78.3" r="2.15" class="st"/><circle cx="68.6" cy="49.5" r="2.15" class="st"/><circle cx="77.9" cy="60.7" r="2.15" class="st"/><circle cx="85.3" cy="61.8" r="2.15" class="st"/><g transform="translate(62 0) scale(0.95 1) translate(-62 0)"><text x="62" y="12.1" class="lblh" filter="url(#bl2)">Zwillinge</text><text x="62" y="12.1" class="lbl">Zwillinge</text></g></svg>
<svg class="cell" style="left:274.50px;top:297.60px" width="124" height="85" viewBox="0 0 124 85"><rect x="0" y="0" width="124" height="85" fill="#030313"/><rect x="2.7" y="2.5" width="118.8" height="79.8" fill="#181b4b"/><path d="M18.5 69.5L43.2 49.3 M18.5 69.5L43.9 65.5 M43.2 49.3L43.9 65.5 M43.9 65.5L95.1 68.8 M95.1 68.8L93.5 54.0 M93.5 54.0L81.9 46.6 M81.9 46.6L81.6 34.4 M81.6 34.4L98.5 23.6" stroke="#05061c" stroke-width="3.2" fill="none" stroke-linecap="round" opacity="0.8"/><path d="M18.5 69.5L43.2 49.3 M18.5 69.5L43.9 65.5 M43.2 49.3L43.9 65.5 M43.9 65.5L95.1 68.8 M95.1 68.8L93.5 54.0 M93.5 54.0L81.9 46.6 M81.9 46.6L81.6 34.4 M81.6 34.4L98.5 23.6" stroke="#2f5496" stroke-width="1.55" fill="none" stroke-linecap="round"/><g filter="url(#bl1)"><circle cx="18.5" cy="69.5" r="4.6" fill="#03041a"/><circle cx="43.2" cy="49.3" r="4.6" fill="#03041a"/><circle cx="43.9" cy="65.5" r="4.6" fill="#03041a"/><circle cx="95.1" cy="68.8" r="4.6" fill="#03041a"/><circle cx="93.5" cy="54.0" r="4.6" fill="#03041a"/><circle cx="81.9" cy="46.6" r="4.6" fill="#03041a"/><circle cx="81.6" cy="34.4" r="4.6" fill="#03041a"/><circle cx="98.5" cy="23.6" r="4.6" fill="#03041a"/><circle cx="105.0" cy="29.7" r="4.6" fill="#03041a"/></g><polygon points="18.50,66.20 19.56,68.04 21.64,68.48 20.21,70.06 20.44,72.17 18.50,71.30 16.56,72.17 16.79,70.06 15.36,68.48 17.44,68.04" class="st"/><polygon points="43.20,46.00 44.26,47.84 46.34,48.28 44.91,49.86 45.14,51.97 43.20,51.10 41.26,51.97 41.49,49.86 40.06,48.28 42.14,47.84" class="st"/><polygon points="43.90,62.20 44.96,64.04 47.04,64.48 45.61,66.06 45.84,68.17 43.90,67.30 41.96,68.17 42.19,66.06 40.76,64.48 42.84,64.04" class="st"/><polygon points="95.10,65.50 96.16,67.34 98.24,67.78 96.81,69.36 97.04,71.47 95.10,70.60 93.16,71.47 93.39,69.36 91.96,67.78 94.04,67.34" class="st"/><polygon points="93.50,50.70 94.56,52.54 96.64,52.98 95.21,54.56 95.44,56.67 93.50,55.80 91.56,56.67 91.79,54.56 90.36,52.98 92.44,52.54" class="st"/><polygon points="81.90,43.30 82.96,45.14 85.04,45.58 83.61,47.16 83.84,49.27 81.90,48.40 79.96,49.27 80.19,47.16 78.76,45.58 80.84,45.14" class="st"/><polygon points="81.60,31.10 82.66,32.94 84.74,33.38 83.31,34.96 83.54,37.07 81.60,36.20 79.66,37.07 79.89,34.96 78.46,33.38 80.54,32.94" class="st"/><polygon points="98.50,20.30 99.56,22.14 101.64,22.58 100.21,24.16 100.44,26.27 98.50,25.40 96.56,26.27 96.79,24.16 95.36,22.58 97.44,22.14" class="st"/><polygon points="105.00,26.40 106.06,28.24 108.14,28.68 106.71,30.26 106.94,32.37 105.00,31.50 103.06,32.37 103.29,30.26 101.86,28.68 103.94,28.24" class="st"/><g transform="translate(62 0) scale(0.95 1) translate(-62 0)"><text x="62" y="12.1" class="lblh" filter="url(#bl2)">Löwe</text><text x="62" y="12.1" class="lbl">Löwe</text></g></svg>
<svg class="cell" style="left:148.25px;top:384.45px" width="124" height="85" viewBox="0 0 124 85"><rect x="0" y="0" width="124" height="85" fill="#030313"/><rect x="2.7" y="2.5" width="118.8" height="79.8" fill="#181b4b"/><path d="M62.1 23.2L53.7 28.6 M53.7 28.6L42.2 43.5 M42.2 43.5L26.3 59.8 M26.3 59.8L36.7 58.4 M36.7 58.4L52.0 57.4 M52.0 57.4L61.4 59.4 M61.4 59.4L77.9 62.8 M77.9 62.8L88.0 67.9 M88.0 67.9L96.5 65.9 M96.5 65.9L98.8 73.3 M98.8 73.3L92.2 76.9 M92.2 76.9L84.6 74.0 M84.6 74.0L88.0 67.9" stroke="#05061c" stroke-width="3.2" fill="none" stroke-linecap="round" opacity="0.8"/><path d="M62.1 23.2L53.7 28.6 M53.7 28.6L42.2 43.5 M42.2 43.5L26.3 59.8 M26.3 59.8L36.7 58.4 M36.7 58.4L52.0 57.4 M52.0 57.4L61.4 59.4 M61.4 59.4L77.9 62.8 M77.9 62.8L88.0 67.9 M88.0 67.9L96.5 65.9 M96.5 65.9L98.8 73.3 M98.8 73.3L92.2 76.9 M92.2 76.9L84.6 74.0 M84.6 74.0L88.0 67.9" stroke="#2f5496" stroke-width="1.55" fill="none" stroke-linecap="round"/><g filter="url(#bl1)"><circle cx="55.3" cy="19.6" r="4.6" fill="#03041a"/><circle cx="62.1" cy="23.2" r="4.6" fill="#03041a"/><circle cx="53.7" cy="28.6" r="4.6" fill="#03041a"/><circle cx="42.2" cy="43.5" r="4.6" fill="#03041a"/><circle cx="26.3" cy="59.8" r="4.6" fill="#03041a"/><circle cx="36.7" cy="58.4" r="4.6" fill="#03041a"/><circle cx="52.0" cy="57.4" r="4.6" fill="#03041a"/><circle cx="61.4" cy="59.4" r="4.6" fill="#03041a"/><circle cx="77.9" cy="62.8" r="4.6" fill="#03041a"/><circle cx="88.0" cy="67.9" r="4.6" fill="#03041a"/><circle cx="96.5" cy="65.9" r="4.6" fill="#03041a"/><circle cx="98.8" cy="73.3" r="4.6" fill="#03041a"/><circle cx="92.2" cy="76.9" r="4.6" fill="#03041a"/><circle cx="84.6" cy="74.0" r="4.6" fill="#03041a"/></g><circle cx="55.3" cy="19.6" r="2.15" class="st"/><circle cx="62.1" cy="23.2" r="2.15" class="st"/><circle cx="53.7" cy="28.6" r="2.15" class="st"/><circle cx="42.2" cy="43.5" r="2.15" class="st"/><circle cx="26.3" cy="59.8" r="2.15" class="st"/><circle cx="36.7" cy="58.4" r="2.15" class="st"/><circle cx="52.0" cy="57.4" r="2.15" class="st"/><circle cx="61.4" cy="59.4" r="2.15" class="st"/><circle cx="77.9" cy="62.8" r="2.15" class="st"/><circle cx="88.0" cy="67.9" r="2.15" class="st"/><circle cx="96.5" cy="65.9" r="2.15" class="st"/><circle cx="98.8" cy="73.3" r="2.15" class="st"/><circle cx="92.2" cy="76.9" r="2.15" class="st"/><circle cx="84.6" cy="74.0" r="2.15" class="st"/><g transform="translate(62 0) scale(0.95 1) translate(-62 0)"><text x="62" y="12.1" class="lblh" filter="url(#bl2)">Fische</text><text x="62" y="12.1" class="lbl">Fische</text></g></svg>
<svg class="cell" style="left:274.50px;top:384.45px" width="124" height="85" viewBox="0 0 124 85"><rect x="0" y="0" width="124" height="85" fill="#030313"/><rect x="2.7" y="2.5" width="118.8" height="79.8" fill="#181b4b"/><path d="M65.0 25.9L66.8 44.5 M76.9 30.4L66.8 44.5 M47.0 35.1L57.1 43.2 M57.1 43.2L49.7 56.4 M66.8 44.5L62.1 55.1 M62.1 55.1L61.8 66.1 M49.7 56.4L36.2 61.4 M49.7 56.4L61.8 66.1 M36.2 61.4L25.9 71.5 M36.2 61.4L42.9 70.4 M42.9 70.4L35.1 78.0 M61.8 66.1L48.3 75.3" stroke="#05061c" stroke-width="3.2" fill="none" stroke-linecap="round" opacity="0.8"/><path d="M65.0 25.9L66.8 44.5 M76.9 30.4L66.8 44.5 M47.0 35.1L57.1 43.2 M57.1 43.2L49.7 56.4 M66.8 44.5L62.1 55.1 M62.1 55.1L61.8 66.1 M49.7 56.4L36.2 61.4 M49.7 56.4L61.8 66.1 M36.2 61.4L25.9 71.5 M36.2 61.4L42.9 70.4 M42.9 70.4L35.1 78.0 M61.8 66.1L48.3 75.3" stroke="#2f5496" stroke-width="1.55" fill="none" stroke-linecap="round"/><g filter="url(#bl1)"><circle cx="72.2" cy="20.9" r="4.6" fill="#03041a"/><circle cx="65.0" cy="25.9" r="4.6" fill="#03041a"/><circle cx="76.9" cy="30.4" r="4.6" fill="#03041a"/><circle cx="47.0" cy="35.1" r="4.6" fill="#03041a"/><circle cx="57.1" cy="43.2" r="4.6" fill="#03041a"/><circle cx="66.8" cy="44.5" r="4.6" fill="#03041a"/><circle cx="62.1" cy="55.1" r="4.6" fill="#03041a"/><circle cx="49.7" cy="56.4" r="4.6" fill="#03041a"/><circle cx="36.2" cy="61.4" r="4.6" fill="#03041a"/><circle cx="61.8" cy="66.1" r="4.6" fill="#03041a"/><circle cx="25.9" cy="71.5" r="4.6" fill="#03041a"/><circle cx="42.9" cy="70.4" r="4.6" fill="#03041a"/><circle cx="48.3" cy="75.3" r="4.6" fill="#03041a"/><circle cx="35.1" cy="78.0" r="4.6" fill="#03041a"/></g><circle cx="72.2" cy="20.9" r="2.15" class="st"/><circle cx="65.0" cy="25.9" r="2.15" class="st"/><circle cx="76.9" cy="30.4" r="2.15" class="st"/><circle cx="47.0" cy="35.1" r="2.15" class="st"/><circle cx="57.1" cy="43.2" r="2.15" class="st"/><circle cx="66.8" cy="44.5" r="2.15" class="st"/><circle cx="62.1" cy="55.1" r="2.15" class="st"/><circle cx="49.7" cy="56.4" r="2.15" class="st"/><circle cx="36.2" cy="61.4" r="2.15" class="st"/><circle cx="61.8" cy="66.1" r="2.15" class="st"/><circle cx="25.9" cy="71.5" r="2.15" class="st"/><circle cx="42.9" cy="70.4" r="2.15" class="st"/><circle cx="48.3" cy="75.3" r="2.15" class="st"/><circle cx="35.1" cy="78.0" r="2.15" class="st"/><g transform="translate(62 0) scale(0.95 1) translate(-62 0)"><text x="62" y="12.1" class="lblh" filter="url(#bl2)">Jungfrau</text><text x="62" y="12.1" class="lbl">Jungfrau</text></g></svg>
<svg class="cell" style="left:148.25px;top:471.30px" width="124" height="85" viewBox="0 0 124 85"><rect x="0" y="0" width="124" height="85" fill="#030313"/><rect x="2.7" y="2.5" width="118.8" height="79.8" fill="#181b4b"/><path d="M103.2 22.3L101.9 33.7 M101.9 33.7L96.9 45.6 M101.9 33.7L84.3 34.4 M84.3 34.4L76.2 35.8 M76.2 35.8L69.1 39.1 M69.1 39.1L53.3 50.6 M53.3 50.6L46.3 62.1 M46.3 62.1L39.1 74.2 M39.1 74.2L28.6 72.5 M28.6 72.5L16.2 65.9 M16.2 65.9L12.4 55.1" stroke="#05061c" stroke-width="3.2" fill="none" stroke-linecap="round" opacity="0.8"/><path d="M103.2 22.3L101.9 33.7 M101.9 33.7L96.9 45.6 M101.9 33.7L84.3 34.4 M84.3 34.4L76.2 35.8 M76.2 35.8L69.1 39.1 M69.1 39.1L53.3 50.6 M53.3 50.6L46.3 62.1 M46.3 62.1L39.1 74.2 M39.1 74.2L28.6 72.5 M28.6 72.5L16.2 65.9 M16.2 65.9L12.4 55.1" stroke="#2f5496" stroke-width="1.55" fill="none" stroke-linecap="round"/><g filter="url(#bl1)"><circle cx="103.2" cy="22.3" r="4.6" fill="#03041a"/><circle cx="101.9" cy="33.7" r="4.6" fill="#03041a"/><circle cx="96.9" cy="45.6" r="4.6" fill="#03041a"/><circle cx="84.3" cy="34.4" r="4.6" fill="#03041a"/><circle cx="76.2" cy="35.8" r="4.6" fill="#03041a"/><circle cx="69.1" cy="39.1" r="4.6" fill="#03041a"/><circle cx="53.3" cy="50.6" r="4.6" fill="#03041a"/><circle cx="46.3" cy="62.1" r="4.6" fill="#03041a"/><circle cx="39.1" cy="74.2" r="4.6" fill="#03041a"/><circle cx="28.6" cy="72.5" r="4.6" fill="#03041a"/><circle cx="16.2" cy="65.9" r="4.6" fill="#03041a"/><circle cx="12.4" cy="55.1" r="4.6" fill="#03041a"/><circle cx="19.6" cy="51.0" r="4.6" fill="#03041a"/><circle cx="28.3" cy="47.6" r="4.6" fill="#03041a"/></g><polygon points="103.20,19.00 104.26,20.84 106.34,21.28 104.91,22.86 105.14,24.97 103.20,24.10 101.26,24.97 101.49,22.86 100.06,21.28 102.14,20.84" class="st"/><polygon points="101.90,30.40 102.96,32.24 105.04,32.68 103.61,34.26 103.84,36.37 101.90,35.50 99.96,36.37 100.19,34.26 98.76,32.68 100.84,32.24" class="st"/><polygon points="96.90,42.30 97.96,44.14 100.04,44.58 98.61,46.16 98.84,48.27 96.90,47.40 94.96,48.27 95.19,46.16 93.76,44.58 95.84,44.14" class="st"/><polygon points="84.30,31.10 85.36,32.94 87.44,33.38 86.01,34.96 86.24,37.07 84.30,36.20 82.36,37.07 82.59,34.96 81.16,33.38 83.24,32.94" class="st"/><polygon points="76.20,32.50 77.26,34.34 79.34,34.78 77.91,36.36 78.14,38.47 76.20,37.60 74.26,38.47 74.49,36.36 73.06,34.78 75.14,34.34" class="st"/><polygon points="69.10,35.80 70.16,37.64 72.24,38.08 70.81,39.66 71.04,41.77 69.10,40.90 67.16,41.77 67.39,39.66 65.96,38.08 68.04,37.64" class="st"/><polygon points="53.30,47.30 54.36,49.14 56.44,49.58 55.01,51.16 55.24,53.27 53.30,52.40 51.36,53.27 51.59,51.16 50.16,49.58 52.24,49.14" class="st"/><polygon points="46.30,58.80 47.36,60.64 49.44,61.08 48.01,62.66 48.24,64.77 46.30,63.90 44.36,64.77 44.59,62.66 43.16,61.08 45.24,60.64" class="st"/><polygon points="39.10,70.90 40.16,72.74 42.24,73.18 40.81,74.76 41.04,76.87 39.10,76.00 37.16,76.87 37.39,74.76 35.96,73.18 38.04,72.74" class="st"/><polygon points="28.60,69.20 29.66,71.04 31.74,71.48 30.31,73.06 30.54,75.17 28.60,74.30 26.66,75.17 26.89,73.06 25.46,71.48 27.54,71.04" class="st"/><polygon points="16.20,62.60 17.26,64.44 19.34,64.88 17.91,66.46 18.14,68.57 16.20,67.70 14.26,68.57 14.49,66.46 13.06,64.88 15.14,64.44" class="st"/><polygon points="12.40,51.80 13.46,53.64 15.54,54.08 14.11,55.66 14.34,57.77 12.40,56.90 10.46,57.77 10.69,55.66 9.26,54.08 11.34,53.64" class="st"/><polygon points="19.60,47.70 20.66,49.54 22.74,49.98 21.31,51.56 21.54,53.67 19.60,52.80 17.66,53.67 17.89,51.56 16.46,49.98 18.54,49.54" class="st"/><polygon points="28.30,44.30 29.36,46.14 31.44,46.58 30.01,48.16 30.24,50.27 28.30,49.40 26.36,50.27 26.59,48.16 25.16,46.58 27.24,46.14" class="st"/><g transform="translate(62 0) scale(0.95 1) translate(-62 0)"><text x="62" y="12.1" class="lblh" filter="url(#bl2)">Skorpion</text><text x="62" y="12.1" class="lbl">Skorpion</text></g></svg>
<svg class="cell" style="left:274.50px;top:471.30px" width="124" height="85" viewBox="0 0 124 85"><rect x="0" y="0" width="124" height="85" fill="#030313"/><rect x="2.7" y="2.5" width="118.8" height="79.8" fill="#181b4b"/><path d="M30.0 22.3L51.3 42.1 M51.3 42.1L71.5 58.3 M71.5 58.3L85.0 75.3 M87.0 36.2L71.5 58.3 M71.5 58.3L51.0 77.6" stroke="#05061c" stroke-width="3.2" fill="none" stroke-linecap="round" opacity="0.8"/><path d="M30.0 22.3L51.3 42.1 M51.3 42.1L71.5 58.3 M71.5 58.3L85.0 75.3 M87.0 36.2L71.5 58.3 M71.5 58.3L51.0 77.6" stroke="#2f5496" stroke-width="1.55" fill="none" stroke-linecap="round"/><g filter="url(#bl1)"><circle cx="30.0" cy="22.3" r="4.6" fill="#03041a"/><circle cx="51.3" cy="42.1" r="4.6" fill="#03041a"/><circle cx="71.5" cy="58.3" r="4.6" fill="#03041a"/><circle cx="85.0" cy="75.3" r="4.6" fill="#03041a"/><circle cx="87.0" cy="36.2" r="4.6" fill="#03041a"/><circle cx="51.0" cy="77.6" r="4.6" fill="#03041a"/></g><circle cx="30.0" cy="22.3" r="2.15" class="st"/><circle cx="51.3" cy="42.1" r="2.15" class="st"/><circle cx="71.5" cy="58.3" r="2.15" class="st"/><circle cx="85.0" cy="75.3" r="2.15" class="st"/><circle cx="87.0" cy="36.2" r="2.15" class="st"/><circle cx="51.0" cy="77.6" r="2.15" class="st"/><g transform="translate(62 0) scale(0.95 1) translate(-62 0)"><text x="62" y="12.1" class="lblh" filter="url(#bl2)">Schwan</text><text x="62" y="12.1" class="lbl">Schwan</text></g></svg>
<div class="abs title" style="top:42.63px;left:0.00px;width:419.00px;text-align:center;text-align-last:center;">Sternbilder der Nordhalbkugel</div><div class="abs title" style="top:70.63px;left:0.00px;width:419.00px;text-align:center;text-align-last:center;">Checkliste</div><div class="abs para" style="top:106.05px;right:21.00px;letter-spacing:0;">Wie viele dieser atemberaubenden Sternbilder kannst du am Nachthimmel</div><div class="abs para" style="top:120.55px;right:114.00px;letter-spacing:0;">entdecken? Nimm dir zusätzlich eine Sternkarte zur Hilfe.</div><div class="abs para" style="top:141.45px;right:21.00px;letter-spacing:0;"><b>Achtung:</b> Diese Sternbilder kannst du auf der Nordhalbkugel nur an</div><div class="abs para" style="top:156.25px;right:61.00px;letter-spacing:0;">bestimmten Tagen im Jahr sehen, andere sind immer sichtbar.</div><div class="abs para" style="top:171.15px;right:21.00px;letter-spacing:0;">Um die Liste zu vervollständigen brauchst du Geduld und etwas Zeit.</div>
<div class="fline" style="left:20px;top:567px;width:379px"></div>
<div class="pg" style="left:0;width:419px;text-align:center;top:578px">Page 3 of 4</div>
<div class="visit" style="left:334.5px;top:579px">visit twinkl.com</div>
<svg style="position:absolute;left:20.5px;top:570.5px" width="34" height="22" viewBox="0 0 34 22">
<path d="M1.5 9.5 C0.5 5.5 4.5 3.5 8 4.5 C10 1 15 -0.5 19 2 C22 0 26.5 1.5 27 4 C31.5 2.5 34 6 32 9 C33 12.5 30 15 27.5 14.5 C26.5 18.5 21 20.5 17.5 18.5 C14 21.5 7.5 20.5 6.5 17 C2 17 -0.5 13 1.5 9.5 Z" fill="#0c1f86"/>
<path d="M5 10 C5 6 10 4 14 5 C17 3 24 3.5 26 6.5 C29 8 28.5 13 25 14 C22 17 14 17.5 11 15.5 C7 15.5 5 13 5 10Z" fill="#1b52a8"/>
<text x="16.3" y="13" font-family="Liberation Sans" font-weight="bold" font-size="8.6" fill="#fff" stroke="#fff" stroke-width="0.45" text-anchor="middle" letter-spacing="-0.3">twinkl</text>
</svg>
<svg style="position:absolute;left:377px;top:570px" width="25" height="23" viewBox="0 0 25 23">
<rect x="0.5" y="0.5" width="21.5" height="21.5" fill="#fff" stroke="#b5d3ef" stroke-width="0.7"/>
<path d="M2.3 8.5 C1 5.5 4 3 7 4 C8.5 1 13 0.8 15 2.5 C17.5 1.5 21 3.5 20.5 6.5 C22 8.5 20.5 11.5 18 11.5 C16.5 14 12.5 14.5 11 12.5 C8.5 14.5 4.5 13.5 4.5 11.5 C2.5 11.5 1.5 10 2.3 8.5Z" fill="#0d2680"/>
<text x="11.3" y="9.6" font-family="Liberation Sans" font-weight="bold" font-size="5" fill="#fff" text-anchor="middle">twinkl</text>
<rect x="3" y="15.3" width="16" height="0.9" fill="#8fb5e0"/>
<rect x="6" y="18.3" width="9" height="0.9" fill="#8fb5e0"/>
<path d="M16.5 19.5 L18.3 21.3 L23.5 16" stroke="#0d2680" stroke-width="1.5" fill="none" stroke-linecap="round" stroke-linejoin="round"/>
</svg>
</div>
<div class="page" style="left:287px;z-index:3;border-right:none;">
<div class="sh"></div>
</div>
<div style="position:absolute;left:287.4px;top:0;width:419px;height:630px;z-index:3;pointer-events:none">
<svg class="cell" style="left:148.25px;top:75.80px" width="124" height="85" viewBox="0 0 124 85"><rect x="0" y="0" width="124" height="85" fill="#030313"/><rect x="2.7" y="2.5" width="118.8" height="79.8" fill="#181b4b"/><path d="M75.2 18.9L48.3 28.1 M48.3 28.1L33.7 22.9 M33.7 22.9L17.1 32.4 M17.1 32.4L24.0 47.0 M24.0 47.0L48.3 28.1 M75.2 18.9L83.3 49.3 M83.3 49.3L103.9 55.3 M83.3 49.3L76.7 78.3 M103.9 55.3L76.7 78.3 M24.0 47.0L76.7 78.3" stroke="#05061c" stroke-width="3.2" fill="none" stroke-linecap="round" opacity="0.8"/><path d="M75.2 18.9L48.3 28.1 M48.3 28.1L33.7 22.9 M33.7 22.9L17.1 32.4 M17.1 32.4L24.0 47.0 M24.0 47.0L48.3 28.1 M75.2 18.9L83.3 49.3 M83.3 49.3L103.9 55.3 M83.3 49.3L76.7 78.3 M103.9 55.3L76.7 78.3 M24.0 47.0L76.7 78.3" stroke="#2f5496" stroke-width="1.55" fill="none" stroke-linecap="round"/><g filter="url(#bl1)"><circle cx="75.2" cy="18.9" r="4.6" fill="#03041a"/><circle cx="33.7" cy="22.9" r="4.6" fill="#03041a"/><circle cx="48.3" cy="28.1" r="4.6" fill="#03041a"/><circle cx="17.1" cy="32.4" r="4.6" fill="#03041a"/><circle cx="24.0" cy="47.0" r="4.6" fill="#03041a"/><circle cx="83.3" cy="49.3" r="4.6" fill="#03041a"/><circle cx="103.9" cy="55.3" r="4.6" fill="#03041a"/><circle cx="76.7" cy="78.3" r="4.6" fill="#03041a"/></g><polygon points="75.20,15.60 76.26,17.44 78.34,17.88 76.91,19.46 77.14,21.57 75.20,20.70 73.26,21.57 73.49,19.46 72.06,17.88 74.14,17.44" class="st"/><polygon points="33.70,19.60 34.76,21.44 36.84,21.88 35.41,23.46 35.64,25.57 33.70,24.70 31.76,25.57 31.99,23.46 30.56,21.88 32.64,21.44" class="st"/><polygon points="48.30,24.80 49.36,26.64 51.44,27.08 50.01,28.66 50.24,30.77 48.30,29.90 46.36,30.77 46.59,28.66 45.16,27.08 47.24,26.64" class="st"/><polygon points="17.10,29.10 18.16,30.94 20.24,31.38 18.81,32.96 19.04,35.07 17.10,34.20 15.16,35.07 15.39,32.96 13.96,31.38 16.04,30.94" class="st"/><polygon points="24.00,43.70 25.06,45.54 27.14,45.98 25.71,47.56 25.94,49.67 24.00,48.80 22.06,49.67 22.29,47.56 20.86,45.98 22.94,45.54" class="st"/><polygon points="83.30,46.00 84.36,47.84 86.44,48.28 85.01,49.86 85.24,51.97 83.30,51.10 81.36,51.97 81.59,49.86 80.16,48.28 82.24,47.84" class="st"/><polygon points="103.90,52.00 104.96,53.84 107.04,54.28 105.61,55.86 105.84,57.97 103.90,57.10 101.96,57.97 102.19,55.86 100.76,54.28 102.84,53.84" class="st"/><polygon points="76.70,75.00 77.76,76.84 79.84,77.28 78.41,78.86 78.64,80.97 76.70,80.10 74.76,80.97 74.99,78.86 73.56,77.28 75.64,76.84" class="st"/><g transform="translate(62 0) scale(0.95 1) translate(-62 0)"><text x="62" y="12.1" class="lblh" filter="url(#bl2)">Sagittarius</text><text x="62" y="12.1" class="lbl">Sagittarius</text></g></svg>
<svg class="cell" style="left:274.50px;top:75.80px" width="124" height="85" viewBox="0 0 124 85"><rect x="0" y="0" width="124" height="85" fill="#030313"/><rect x="2.7" y="2.5" width="118.8" height="79.8" fill="#181b4b"/><path d="M79.9 19.6L59.4 53.7 M59.4 53.7L32.8 72.5 M32.8 72.5L57.8 77.6 M57.8 77.6L87.0 72.2 M87.0 72.2L83.3 28.6 M83.3 28.6L79.9 19.6" stroke="#05061c" stroke-width="3.2" fill="none" stroke-linecap="round" opacity="0.8"/><path d="M79.9 19.6L59.4 53.7 M59.4 53.7L32.8 72.5 M32.8 72.5L57.8 77.6 M57.8 77.6L87.0 72.2 M87.0 72.2L83.3 28.6 M83.3 28.6L79.9 19.6" stroke="#2f5496" stroke-width="1.55" fill="none" stroke-linecap="round"/><g filter="url(#bl1)"><circle cx="79.9" cy="19.6" r="4.6" fill="#03041a"/><circle cx="83.3" cy="28.6" r="4.6" fill="#03041a"/><circle cx="59.4" cy="53.7" r="4.6" fill="#03041a"/><circle cx="32.8" cy="72.5" r="4.6" fill="#03041a"/><circle cx="57.8" cy="77.6" r="4.6" fill="#03041a"/><circle cx="87.0" cy="72.2" r="4.6" fill="#03041a"/></g><circle cx="79.9" cy="19.6" r="2.15" class="st"/><circle cx="83.3" cy="28.6" r="2.15" class="st"/><circle cx="59.4" cy="53.7" r="2.15" class="st"/><circle cx="32.8" cy="72.5" r="2.15" class="st"/><circle cx="57.8" cy="77.6" r="2.15" class="st"/><circle cx="87.0" cy="72.2" r="2.15" class="st"/><g transform="translate(62 0) scale(0.95 1) translate(-62 0)"><text x="62" y="12.1" class="lblh" filter="url(#bl2)">Capricorn</text><text x="62" y="12.1" class="lbl">Capricorn</text></g></svg>
<svg class="cell" style="left:148.25px;top:162.65px" width="124" height="85" viewBox="0 0 124 85"><rect x="0" y="0" width="124" height="85" fill="#030313"/><rect x="2.7" y="2.5" width="118.8" height="79.8" fill="#181b4b"/><path d="M58.7 18.6L81.6 55.1 M81.6 55.1L87.0 70.4 M87.0 70.4L82.1 78.3" stroke="#05061c" stroke-width="3.2" fill="none" stroke-linecap="round" opacity="0.8"/><path d="M58.7 18.6L81.6 55.1 M81.6 55.1L87.0 70.4 M87.0 70.4L82.1 78.3" stroke="#2f5496" stroke-width="1.55" fill="none" stroke-linecap="round"/><g filter="url(#bl1)"><circle cx="58.7" cy="18.6" r="4.6" fill="#03041a"/><circle cx="81.6" cy="55.1" r="4.6" fill="#03041a"/><circle cx="87.0" cy="70.4" r="4.6" fill="#03041a"/><circle cx="82.1" cy="78.3" r="4.6" fill="#03041a"/></g><circle cx="58.7" cy="18.6" r="2.15" class="st"/><circle cx="81.6" cy="55.1" r="2.15" class="st"/><circle cx="87.0" cy="70.4" r="2.15" class="st"/><circle cx="82.1" cy="78.3" r="2.15" class="st"/><g transform="translate(62 0) scale(0.95 1) translate(-62 0)"><text x="62" y="12.1" class="lblh" filter="url(#bl2)">Aries</text><text x="62" y="12.1" class="lbl">Aries</text></g></svg>
<svg class="cell" style="left:274.50px;top:162.65px" width="124" height="85" viewBox="0 0 124 85"><rect x="0" y="0" width="124" height="85" fill="#030313"/><rect x="2.7" y="2.5" width="118.8" height="79.8" fill="#181b4b"/><path d="M47.0 21.3L55.1 20.9 M47.0 21.3L42.9 32.4 M55.1 20.9L48.9 31.0 M42.9 32.4L51.7 45.9 M48.9 31.0L51.7 45.9 M51.7 45.9L63.4 41.2 M51.7 45.9L68.8 47.9 M68.8 47.9L85.3 56.4 M84.3 33.7L89.7 41.8 M89.7 41.8L88.1 47.9 M88.1 47.9L85.3 56.4 M51.7 45.9L56.4 64.1 M68.8 47.9L67.7 61.4 M56.4 64.1L54.7 78.3 M67.7 61.4L74.9 76.7 M54.7 78.3L74.9 76.7" stroke="#05061c" stroke-width="3.2" fill="none" stroke-linecap="round" opacity="0.8"/><path d="M47.0 21.3L55.1 20.9 M47.0 21.3L42.9 32.4 M55.1 20.9L48.9 31.0 M42.9 32.4L51.7 45.9 M48.9 31.0L51.7 45.9 M51.7 45.9L63.4 41.2 M51.7 45.9L68.8 47.9 M68.8 47.9L85.3 56.4 M84.3 33.7L89.7 41.8 M89.7 41.8L88.1 47.9 M88.1 47.9L85.3 56.4 M51.7 45.9L56.4 64.1 M68.8 47.9L67.7 61.4 M56.4 64.1L54.7 78.3 M67.7 61.4L74.9 76.7 M54.7 78.3L74.9 76.7" stroke="#2f5496" stroke-width="1.55" fill="none" stroke-linecap="round"/><g filter="url(#bl1)"><circle cx="47.0" cy="21.3" r="4.6" fill="#03041a"/><circle cx="55.1" cy="20.9" r="4.6" fill="#03041a"/><circle cx="42.9" cy="32.4" r="4.6" fill="#03041a"/><circle cx="48.9" cy="31.0" r="4.6" fill="#03041a"/><circle cx="51.7" cy="45.9" r="4.6" fill="#03041a"/><circle cx="63.4" cy="41.2" r="4.6" fill="#03041a"/><circle cx="68.8" cy="47.9" r="4.6" fill="#03041a"/><circle cx="84.3" cy="33.7" r="4.6" fill="#03041a"/><circle cx="89.7" cy="41.8" r="4.6" fill="#03041a"/><circle cx="88.1" cy="47.9" r="4.6" fill="#03041a"/><circle cx="85.3" cy="56.4" r="4.6" fill="#03041a"/><circle cx="56.4" cy="64.1" r="4.6" fill="#03041a"/><circle cx="61.8" cy="62.3" r="4.6" fill="#03041a"/><circle cx="67.7" cy="61.4" r="4.6" fill="#03041a"/><circle cx="54.7" cy="78.3" r="4.6" fill="#03041a"/><circle cx="74.9" cy="76.7" r="4.6" fill="#03041a"/></g><circle cx="47.0" cy="21.3" r="2.15" class="st"/><circle cx="55.1" cy="20.9" r="2.15" class="st"/><circle cx="42.9" cy="32.4" r="2.15" class="st"/><circle cx="48.9" cy="31.0" r="2.15" class="st"/><circle cx="51.7" cy="45.9" r="2.15" class="st"/><circle cx="63.4" cy="41.2" r="2.15" class="st"/><circle cx="68.8" cy="47.9" r="2.15" class="st"/><circle cx="84.3" cy="33.7" r="2.15" class="st"/><circle cx="89.7" cy="41.8" r="2.15" class="st"/><circle cx="88.1" cy="47.9" r="2.15" class="st"/><circle cx="85.3" cy="56.4" r="2.15" class="st"/><circle cx="56.4" cy="64.1" r="2.15" class="st"/><circle cx="61.8" cy="62.3" r="2.15" class="st"/><circle cx="67.7" cy="61.4" r="2.15" class="st"/><circle cx="54.7" cy="78.3" r="2.15" class="st"/><circle cx="74.9" cy="76.7" r="2.15" class="st"/><g transform="translate(62 0) scale(0.95 1) translate(-62 0)"><text x="62" y="12.1" class="lblh" filter="url(#bl2)">Orion</text><text x="62" y="12.1" class="lbl">Orion</text></g></svg>
<svg class="cell" style="left:148.25px;top:249.50px" width="124" height="85" viewBox="0 0 124 85"><rect x="0" y="0" width="124" height="85" fill="#030313"/><rect x="2.7" y="2.5" width="118.8" height="79.8" fill="#181b4b"/><path d="M52.0 24.7L53.7 33.7 M53.7 33.7L61.8 41.8 M61.8 41.8L68.8 47.5 M68.8 47.5L76.2 51.3 M76.2 51.3L80.7 45.5 M45.9 27.7L47.5 39.1 M47.5 39.1L53.7 56.9 M53.7 56.9L54.3 66.1 M54.3 66.1L60.5 73.5 M60.5 73.5L68.6 79.6 M68.6 79.6L72.9 74.5" stroke="#05061c" stroke-width="3.2" fill="none" stroke-linecap="round" opacity="0.8"/><path d="M52.0 24.7L53.7 33.7 M53.7 33.7L61.8 41.8 M61.8 41.8L68.8 47.5 M68.8 47.5L76.2 51.3 M76.2 51.3L80.7 45.5 M45.9 27.7L47.5 39.1 M47.5 39.1L53.7 56.9 M53.7 56.9L54.3 66.1 M54.3 66.1L60.5 73.5 M60.5 73.5L68.6 79.6 M68.6 79.6L72.9 74.5" stroke="#2f5496" stroke-width="1.55" fill="none" stroke-linecap="round"/><g filter="url(#bl1)"><circle cx="45.2" cy="20.5" r="4.6" fill="#03041a"/><circle cx="45.9" cy="27.7" r="4.6" fill="#03041a"/><circle cx="52.0" cy="24.7" r="4.6" fill="#03041a"/><circle cx="53.7" cy="33.7" r="4.6" fill="#03041a"/><circle cx="47.5" cy="39.1" r="4.6" fill="#03041a"/><circle cx="61.8" cy="41.8" r="4.6" fill="#03041a"/><circle cx="68.8" cy="47.5" r="4.6" fill="#03041a"/><circle cx="76.2" cy="51.3" r="4.6" fill="#03041a"/><circle cx="80.7" cy="45.5" r="4.6" fill="#03041a"/><circle cx="53.7" cy="56.9" r="4.6" fill="#03041a"/><circle cx="54.3" cy="66.1" r="4.6" fill="#03041a"/><circle cx="60.5" cy="73.5" r="4.6" fill="#03041a"/><circle cx="68.6" cy="79.6" r="4.6" fill="#03041a"/><circle cx="72.9" cy="74.5" r="4.6" fill="#03041a"/></g><circle cx="45.2" cy="20.5" r="2.15" class="st"/><circle cx="45.9" cy="27.7" r="2.15" class="st"/><circle cx="52.0" cy="24.7" r="2.15" class="st"/><circle cx="53.7" cy="33.7" r="2.15" class="st"/><circle cx="47.5" cy="39.1" r="2.15" class="st"/><circle cx="61.8" cy="41.8" r="2.15" class="st"/><circle cx="68.8" cy="47.5" r="2.15" class="st"/><circle cx="76.2" cy="51.3" r="2.15" class="st"/><circle cx="80.7" cy="45.5" r="2.15" class="st"/><circle cx="53.7" cy="56.9" r="2.15" class="st"/><circle cx="54.3" cy="66.1" r="2.15" class="st"/><circle cx="60.5" cy="73.5" r="2.15" class="st"/><circle cx="68.6" cy="79.6" r="2.15" class="st"/><circle cx="72.9" cy="74.5" r="2.15" class="st"/><g transform="translate(62 0) scale(0.95 1) translate(-62 0)"><text x="62" y="12.1" class="lblh" filter="url(#bl2)">Perseus</text><text x="62" y="12.1" class="lbl">Perseus</text></g></svg>
<svg class="cell" style="left:274.50px;top:249.50px" width="124" height="85" viewBox="0 0 124 85"><rect x="0" y="0" width="124" height="85" fill="#030313"/><rect x="2.7" y="2.5" width="118.8" height="79.8" fill="#181b4b"/><path d="M50.6 25.6L74.2 43.5 M50.6 25.6L42.9 47.5 M42.9 47.5L32.4 53.7 M42.9 47.5L59.8 66.4 M59.8 66.4L74.2 43.5 M74.2 43.5L93.1 75.3 M59.8 66.4L93.1 75.3" stroke="#05061c" stroke-width="3.2" fill="none" stroke-linecap="round" opacity="0.8"/><path d="M50.6 25.6L74.2 43.5 M50.6 25.6L42.9 47.5 M42.9 47.5L32.4 53.7 M42.9 47.5L59.8 66.4 M59.8 66.4L74.2 43.5 M74.2 43.5L93.1 75.3 M59.8 66.4L93.1 75.3" stroke="#2f5496" stroke-width="1.55" fill="none" stroke-linecap="round"/><g filter="url(#bl1)"><circle cx="50.6" cy="25.6" r="4.6" fill="#03041a"/><circle cx="74.2" cy="43.5" r="4.6" fill="#03041a"/><circle cx="42.9" cy="47.5" r="4.6" fill="#03041a"/><circle cx="32.4" cy="53.7" r="4.6" fill="#03041a"/><circle cx="31.0" cy="63.2" r="4.6" fill="#03041a"/><circle cx="59.8" cy="66.4" r="4.6" fill="#03041a"/><circle cx="93.1" cy="75.3" r="4.6" fill="#03041a"/></g><polygon points="50.60,22.30 51.66,24.14 53.74,24.58 52.31,26.16 52.54,28.27 50.60,27.40 48.66,28.27 48.89,26.16 47.46,24.58 49.54,24.14" class="st"/><polygon points="74.20,40.20 75.26,42.04 77.34,42.48 75.91,44.06 76.14,46.17 74.20,45.30 72.26,46.17 72.49,44.06 71.06,42.48 73.14,42.04" class="st"/><polygon points="42.90,44.20 43.96,46.04 46.04,46.48 44.61,48.06 44.84,50.17 42.90,49.30 40.96,50.17 41.19,48.06 39.76,46.48 41.84,46.04" class="st"/><polygon points="32.40,50.40 33.46,52.24 35.54,52.68 34.11,54.26 34.34,56.37 32.40,55.50 30.46,56.37 30.69,54.26 29.26,52.68 31.34,52.24" class="st"/><polygon points="31.00,59.90 32.06,61.74 34.14,62.18 32.71,63.76 32.94,65.87 31.00,65.00 29.06,65.87 29.29,63.76 27.86,62.18 29.94,61.74" class="st"/><polygon points="59.80,63.10 60.86,64.94 62.94,65.38 61.51,66.96 61.74,69.07 59.80,68.20 57.86,69.07 58.09,66.96 56.66,65.38 58.74,64.94" class="st"/><polygon points="93.10,72.00 94.16,73.84 96.24,74.28 94.81,75.86 95.04,77.97 93.10,77.10 91.16,77.97 91.39,75.86 89.96,74.28 92.04,73.84" class="st"/><g transform="translate(62 0) scale(0.95 1) translate(-62 0)"><text x="62" y="12.1" class="lblh" filter="url(#bl2)">Cepheus</text><text x="62" y="12.1" class="lbl">Cepheus</text></g></svg>
<svg class="cell" style="left:148.25px;top:336.35px" width="124" height="85" viewBox="0 0 124 85"><rect x="0" y="0" width="124" height="85" fill="#030313"/><rect x="2.7" y="2.5" width="118.8" height="79.8" fill="#181b4b"/><path d="M85.3 19.6L77.2 28.1 M77.2 28.1L66.1 36.4 M66.1 36.4L58.7 27.7 M58.7 27.7L49.7 25.9 M49.7 25.9L47.2 34.4 M47.2 34.4L50.6 51.6 M66.1 36.4L59.8 48.9 M59.8 48.9L50.6 51.6 M50.6 51.6L39.8 72.9 M50.6 51.6L55.1 69.9 M39.8 72.9L55.1 69.9 M55.1 69.9L65.2 71.8 M65.2 71.8L65.5 79.4" stroke="#05061c" stroke-width="3.2" fill="none" stroke-linecap="round" opacity="0.8"/><path d="M85.3 19.6L77.2 28.1 M77.2 28.1L66.1 36.4 M66.1 36.4L58.7 27.7 M58.7 27.7L49.7 25.9 M49.7 25.9L47.2 34.4 M47.2 34.4L50.6 51.6 M66.1 36.4L59.8 48.9 M59.8 48.9L50.6 51.6 M50.6 51.6L39.8 72.9 M50.6 51.6L55.1 69.9 M39.8 72.9L55.1 69.9 M55.1 69.9L65.2 71.8 M65.2 71.8L65.5 79.4" stroke="#2f5496" stroke-width="1.55" fill="none" stroke-linecap="round"/><g filter="url(#bl1)"><circle cx="77.6" cy="18.9" r="4.6" fill="#03041a"/><circle cx="85.3" cy="19.6" r="4.6" fill="#03041a"/><circle cx="77.2" cy="28.1" r="4.6" fill="#03041a"/><circle cx="66.1" cy="36.4" r="4.6" fill="#03041a"/><circle cx="58.7" cy="27.7" r="4.6" fill="#03041a"/><circle cx="49.7" cy="25.9" r="4.6" fill="#03041a"/><circle cx="47.2" cy="34.4" r="4.6" fill="#03041a"/><circle cx="59.8" cy="48.9" r="4.6" fill="#03041a"/><circle cx="50.6" cy="51.6" r="4.6" fill="#03041a"/><circle cx="39.8" cy="72.9" r="4.6" fill="#03041a"/><circle cx="55.1" cy="69.9" r="4.6" fill="#03041a"/><circle cx="65.2" cy="71.8" r="4.6" fill="#03041a"/><circle cx="65.5" cy="79.4" r="4.6" fill="#03041a"/></g><circle cx="77.6" cy="18.9" r="2.15" class="st"/><circle cx="85.3" cy="19.6" r="2.15" class="st"/><circle cx="77.2" cy="28.1" r="2.15" class="st"/><circle cx="66.1" cy="36.4" r="2.15" class="st"/><circle cx="58.7" cy="27.7" r="2.15" class="st"/><circle cx="49.7" cy="25.9" r="2.15" class="st"/><circle cx="47.2" cy="34.4" r="2.15" class="st"/><circle cx="59.8" cy="48.9" r="2.15" class="st"/><circle cx="50.6" cy="51.6" r="2.15" class="st"/><circle cx="39.8" cy="72.9" r="2.15" class="st"/><circle cx="55.1" cy="69.9" r="2.15" class="st"/><circle cx="65.2" cy="71.8" r="2.15" class="st"/><circle cx="65.5" cy="79.4" r="2.15" class="st"/><g transform="translate(62 0) scale(0.95 1) translate(-62 0)"><text x="62" y="12.1" class="lblh" filter="url(#bl2)">Bootes</text><text x="62" y="12.1" class="lbl">Bootes</text></g></svg>
<svg class="cell" style="left:274.50px;top:336.35px" width="124" height="85" viewBox="0 0 124 85"><rect x="0" y="0" width="124" height="85" fill="#030313"/><rect x="2.7" y="2.5" width="118.8" height="79.8" fill="#181b4b"/><path d="M52.9 21.6L57.8 37.5 M57.8 37.5L51.7 47.5 M57.8 37.5L68.2 46.6 M32.8 40.2L51.7 47.5 M51.7 47.5L63.4 53.0 M51.7 47.5L40.1 57.4 M68.2 46.6L63.4 53.0 M68.2 46.6L84.3 55.3 M63.4 53.0L66.4 65.9 M66.4 65.9L80.3 78.3" stroke="#05061c" stroke-width="3.2" fill="none" stroke-linecap="round" opacity="0.8"/><path d="M52.9 21.6L57.8 37.5 M57.8 37.5L51.7 47.5 M57.8 37.5L68.2 46.6 M32.8 40.2L51.7 47.5 M51.7 47.5L63.4 53.0 M51.7 47.5L40.1 57.4 M68.2 46.6L63.4 53.0 M68.2 46.6L84.3 55.3 M63.4 53.0L66.4 65.9 M66.4 65.9L80.3 78.3" stroke="#2f5496" stroke-width="1.55" fill="none" stroke-linecap="round"/><g filter="url(#bl1)"><circle cx="52.9" cy="21.6" r="4.6" fill="#03041a"/><circle cx="57.8" cy="37.5" r="4.6" fill="#03041a"/><circle cx="32.8" cy="40.2" r="4.6" fill="#03041a"/><circle cx="51.7" cy="47.5" r="4.6" fill="#03041a"/><circle cx="68.2" cy="46.6" r="4.6" fill="#03041a"/><circle cx="63.4" cy="53.0" r="4.6" fill="#03041a"/><circle cx="40.1" cy="57.4" r="4.6" fill="#03041a"/><circle cx="84.3" cy="55.3" r="4.6" fill="#03041a"/><circle cx="93.5" cy="56.7" r="4.6" fill="#03041a"/><circle cx="66.4" cy="65.9" r="4.6" fill="#03041a"/><circle cx="80.3" cy="78.3" r="4.6" fill="#03041a"/></g><circle cx="52.9" cy="21.6" r="2.15" class="st"/><circle cx="57.8" cy="37.5" r="2.15" class="st"/><circle cx="32.8" cy="40.2" r="2.15" class="st"/><circle cx="51.7" cy="47.5" r="2.15" class="st"/><circle cx="68.2" cy="46.6" r="2.15" class="st"/><circle cx="63.4" cy="53.0" r="2.15" class="st"/><circle cx="40.1" cy="57.4" r="2.15" class="st"/><circle cx="84.3" cy="55.3" r="2.15" class="st"/><circle cx="93.5" cy="56.7" r="2.15" class="st"/><circle cx="66.4" cy="65.9" r="2.15" class="st"/><circle cx="80.3" cy="78.3" r="2.15" class="st"/><g transform="translate(62 0) scale(0.95 1) translate(-62 0)"><text x="62" y="12.1" class="lblh" filter="url(#bl2)">Hercules</text><text x="62" y="12.1" class="lbl">Hercules</text></g></svg>
<svg class="cell" style="left:148.25px;top:423.20px" width="124" height="85" viewBox="0 0 124 85"><rect x="0" y="0" width="124" height="85" fill="#030313"/><rect x="2.7" y="2.5" width="118.8" height="79.8" fill="#181b4b"/><path d="M41.6 22.7L67.5 20.5 M41.6 22.7L38.5 49.3 M38.5 49.3L59.4 79.9 M59.4 79.9L81.4 64.1 M81.4 64.1L67.5 20.5" stroke="#05061c" stroke-width="3.2" fill="none" stroke-linecap="round" opacity="0.8"/><path d="M41.6 22.7L67.5 20.5 M41.6 22.7L38.5 49.3 M38.5 49.3L59.4 79.9 M59.4 79.9L81.4 64.1 M81.4 64.1L67.5 20.5" stroke="#2f5496" stroke-width="1.55" fill="none" stroke-linecap="round"/><g filter="url(#bl1)"><circle cx="41.6" cy="22.7" r="4.6" fill="#03041a"/><circle cx="67.5" cy="20.5" r="4.6" fill="#03041a"/><circle cx="38.5" cy="49.3" r="4.6" fill="#03041a"/><circle cx="81.4" cy="64.1" r="4.6" fill="#03041a"/><circle cx="59.4" cy="79.9" r="4.6" fill="#03041a"/></g><circle cx="41.6" cy="22.7" r="2.15" class="st"/><circle cx="67.5" cy="20.5" r="2.15" class="st"/><circle cx="38.5" cy="49.3" r="2.15" class="st"/><circle cx="81.4" cy="64.1" r="2.15" class="st"/><circle cx="59.4" cy="79.9" r="2.15" class="st"/><g transform="translate(62 0) scale(0.95 1) translate(-62 0)"><text x="62" y="12.1" class="lblh" filter="url(#bl2)">Auriga</text><text x="62" y="12.1" class="lbl">Auriga</text></g></svg>
<svg class="cell" style="left:274.50px;top:423.20px" width="124" height="85" viewBox="0 0 124 85"><rect x="0" y="0" width="124" height="85" fill="#030313"/><rect x="2.7" y="2.5" width="118.8" height="79.8" fill="#181b4b"/><path d="M23.3 34.1L35.8 24.6 M35.8 24.6L52.6 32.8 M52.6 32.8L65.5 40.5 M65.5 40.5L99.6 41.2 M99.6 41.2L95.8 69.8 M95.8 69.8L66.4 68.2 M66.4 68.2L65.5 40.5 M66.4 68.2L56.7 58.4 M56.7 58.4L39.5 65.2 M66.4 68.2L57.1 73.5 M57.1 73.5L44.5 79.6" stroke="#05061c" stroke-width="3.2" fill="none" stroke-linecap="round" opacity="0.8"/><path d="M23.3 34.1L35.8 24.6 M35.8 24.6L52.6 32.8 M52.6 32.8L65.5 40.5 M65.5 40.5L99.6 41.2 M99.6 41.2L95.8 69.8 M95.8 69.8L66.4 68.2 M66.4 68.2L65.5 40.5 M66.4 68.2L56.7 58.4 M56.7 58.4L39.5 65.2 M66.4 68.2L57.1 73.5 M57.1 73.5L44.5 79.6" stroke="#2f5496" stroke-width="1.55" fill="none" stroke-linecap="round"/><g filter="url(#bl1)"><circle cx="23.3" cy="34.1" r="4.6" fill="#03041a"/><circle cx="35.8" cy="24.6" r="4.6" fill="#03041a"/><circle cx="52.6" cy="32.8" r="4.6" fill="#03041a"/><circle cx="65.5" cy="40.5" r="4.6" fill="#03041a"/><circle cx="99.6" cy="41.2" r="4.6" fill="#03041a"/><circle cx="95.8" cy="69.8" r="4.6" fill="#03041a"/><circle cx="66.4" cy="68.2" r="4.6" fill="#03041a"/><circle cx="56.7" cy="58.4" r="4.6" fill="#03041a"/><circle cx="39.5" cy="65.2" r="4.6" fill="#03041a"/><circle cx="57.1" cy="73.5" r="4.6" fill="#03041a"/><circle cx="44.5" cy="79.6" r="4.6" fill="#03041a"/></g><circle cx="23.3" cy="34.1" r="2.15" class="st"/><circle cx="35.8" cy="24.6" r="2.15" class="st"/><circle cx="52.6" cy="32.8" r="2.15" class="st"/><circle cx="65.5" cy="40.5" r="2.15" class="st"/><circle cx="99.6" cy="41.2" r="2.15" class="st"/><circle cx="95.8" cy="69.8" r="2.15" class="st"/><circle cx="66.4" cy="68.2" r="2.15" class="st"/><circle cx="56.7" cy="58.4" r="2.15" class="st"/><circle cx="39.5" cy="65.2" r="2.15" class="st"/><circle cx="57.1" cy="73.5" r="2.15" class="st"/><circle cx="44.5" cy="79.6" r="2.15" class="st"/><g transform="translate(62 0) scale(0.95 1) translate(-62 0)"><text x="62" y="12.1" class="lblh" filter="url(#bl2)">Pegasus</text><text x="62" y="12.1" class="lbl">Pegasus</text></g></svg>
<div class="abs hdr" style="top:43.65px;right:87.00px;">Northern Hemisphere Constellation Spotting Checklist</div>
<div class="fline" style="left:20px;top:567px;width:379px"></div>
<div class="pg" style="left:0;width:419px;text-align:center;top:578px">Page 2 of 4</div>
<div class="visit" style="left:334.5px;top:579px">visit twinkl.com</div>
<svg style="position:absolute;left:20.5px;top:570.5px" width="34" height="22" viewBox="0 0 34 22">
<path d="M1.5 9.5 C0.5 5.5 4.5 3.5 8 4.5 C10 1 15 -0.5 19 2 C22 0 26.5 1.5 27 4 C31.5 2.5 34 6 32 9 C33 12.5 30 15 27.5 14.5 C26.5 18.5 21 20.5 17.5 18.5 C14 21.5 7.5 20.5 6.5 17 C2 17 -0.5 13 1.5 9.5 Z" fill="#0c1f86"/>
<path d="M5 10 C5 6 10 4 14 5 C17 3 24 3.5 26 6.5 C29 8 28.5 13 25 14 C22 17 14 17.5 11 15.5 C7 15.5 5 13 5 10Z" fill="#1b52a8"/>
<text x="16.3" y="13" font-family="Liberation Sans" font-weight="bold" font-size="8.6" fill="#fff" stroke="#fff" stroke-width="0.45" text-anchor="middle" letter-spacing="-0.3">twinkl</text>
</svg>
<svg style="position:absolute;left:377px;top:570px" width="25" height="23" viewBox="0 0 25 23">
<rect x="0.5" y="0.5" width="21.5" height="21.5" fill="#fff" stroke="#b5d3ef" stroke-width="0.7"/>
<path d="M2.3 8.5 C1 5.5 4 3 7 4 C8.5 1 13 0.8 15 2.5 C17.5 1.5 21 3.5 20.5 6.5 C22 8.5 20.5 11.5 18 11.5 C16.5 14 12.5 14.5 11 12.5 C8.5 14.5 4.5 13.5 4.5 11.5 C2.5 11.5 1.5 10 2.3 8.5Z" fill="#0d2680"/>
<text x="11.3" y="9.6" font-family="Liberation Sans" font-weight="bold" font-size="5" fill="#fff" text-anchor="middle">twinkl</text>
<rect x="3" y="15.3" width="16" height="0.9" fill="#8fb5e0"/>
<rect x="6" y="18.3" width="9" height="0.9" fill="#8fb5e0"/>
<path d="M16.5 19.5 L18.3 21.3 L23.5 16" stroke="#0d2680" stroke-width="1.5" fill="none" stroke-linecap="round" stroke-linejoin="round"/>
</svg>
</div>
<div class="page" style="left:22px;z-index:4;border-right:none;">
<div class="sh"></div>
</div>
<div style="position:absolute;left:23px;top:0;width:419px;height:630px;z-index:4;pointer-events:none">
<svg class="cell" style="left:22.00px;top:210.75px" width="124" height="85" viewBox="0 0 124 85"><rect x="0" y="0" width="124" height="85" fill="#030313"/><rect x="2.7" y="2.5" width="118.8" height="79.8" fill="#181b4b"/><path d="M57.8 25.6L57.8 46.3 M57.8 46.3L68.6 56.7 M68.6 56.7L60.3 71.5 M60.3 71.5L76.9 74.2" stroke="#05061c" stroke-width="3.2" fill="none" stroke-linecap="round" opacity="0.8"/><path d="M57.8 25.6L57.8 46.3 M57.8 46.3L68.6 56.7 M68.6 56.7L60.3 71.5 M60.3 71.5L76.9 74.2" stroke="#2f5496" stroke-width="1.55" fill="none" stroke-linecap="round"/><g filter="url(#bl1)"><circle cx="57.8" cy="25.6" r="4.6" fill="#03041a"/><circle cx="57.8" cy="46.3" r="4.6" fill="#03041a"/><circle cx="68.6" cy="56.7" r="4.6" fill="#03041a"/><circle cx="60.3" cy="71.5" r="4.6" fill="#03041a"/><circle cx="76.9" cy="74.2" r="4.6" fill="#03041a"/></g><polygon points="57.80,22.30 58.86,24.14 60.94,24.58 59.51,26.16 59.74,28.27 57.80,27.40 55.86,28.27 56.09,26.16 54.66,24.58 56.74,24.14" class="st"/><polygon points="57.80,43.00 58.86,44.84 60.94,45.28 59.51,46.86 59.74,48.97 57.80,48.10 55.86,48.97 56.09,46.86 54.66,45.28 56.74,44.84" class="st"/><polygon points="68.60,53.40 69.66,55.24 71.74,55.68 70.31,57.26 70.54,59.37 68.60,58.50 66.66,59.37 66.89,57.26 65.46,55.68 67.54,55.24" class="st"/><polygon points="60.30,68.20 61.36,70.04 63.44,70.48 62.01,72.06 62.24,74.17 60.30,73.30 58.36,74.17 58.59,72.06 57.16,70.48 59.24,70.04" class="st"/><polygon points="76.90,70.90 77.96,72.74 80.04,73.18 78.61,74.76 78.84,76.87 76.90,76.00 74.96,76.87 75.19,74.76 73.76,73.18 75.84,72.74" class="st"/><g transform="translate(62 0) scale(0.95 1) translate(-62 0)"><text x="62" y="12.1" class="lblh" filter="url(#bl2)">Cassiopeia</text><text x="62" y="12.1" class="lbl">Cassiopeia</text></g></svg>
<svg class="cell" style="left:148.25px;top:210.75px" width="124" height="85" viewBox="0 0 124 85"><rect x="0" y="0" width="124" height="85" fill="#030313"/><rect x="2.7" y="2.5" width="118.8" height="79.8" fill="#181b4b"/><path d="M61.0 26.3L71.1 34.8 M71.1 34.8L84.3 44.3 M71.1 34.8L52.9 51.0 M52.9 51.0L47.2 56.4 M47.2 56.4L34.8 62.3 M47.2 56.4L51.0 65.9 M51.0 65.9L72.2 77.6" stroke="#05061c" stroke-width="3.2" fill="none" stroke-linecap="round" opacity="0.8"/><path d="M61.0 26.3L71.1 34.8 M71.1 34.8L84.3 44.3 M71.1 34.8L52.9 51.0 M52.9 51.0L47.2 56.4 M47.2 56.4L34.8 62.3 M47.2 56.4L51.0 65.9 M51.0 65.9L72.2 77.6" stroke="#2f5496" stroke-width="1.55" fill="none" stroke-linecap="round"/><g filter="url(#bl1)"><circle cx="61.0" cy="26.3" r="4.6" fill="#03041a"/><circle cx="71.1" cy="34.8" r="4.6" fill="#03041a"/><circle cx="84.3" cy="44.3" r="4.6" fill="#03041a"/><circle cx="52.9" cy="51.0" r="4.6" fill="#03041a"/><circle cx="47.2" cy="56.4" r="4.6" fill="#03041a"/><circle cx="34.8" cy="62.3" r="4.6" fill="#03041a"/><circle cx="51.0" cy="65.9" r="4.6" fill="#03041a"/><circle cx="72.2" cy="77.6" r="4.6" fill="#03041a"/></g><polygon points="61.00,23.00 62.06,24.84 64.14,25.28 62.71,26.86 62.94,28.97 61.00,28.10 59.06,28.97 59.29,26.86 57.86,25.28 59.94,24.84" class="st"/><polygon points="71.10,31.50 72.16,33.34 74.24,33.78 72.81,35.36 73.04,37.47 71.10,36.60 69.16,37.47 69.39,35.36 67.96,33.78 70.04,33.34" class="st"/><polygon points="84.30,41.00 85.36,42.84 87.44,43.28 86.01,44.86 86.24,46.97 84.30,46.10 82.36,46.97 82.59,44.86 81.16,43.28 83.24,42.84" class="st"/><polygon points="52.90,47.70 53.96,49.54 56.04,49.98 54.61,51.56 54.84,53.67 52.90,52.80 50.96,53.67 51.19,51.56 49.76,49.98 51.84,49.54" class="st"/><polygon points="47.20,53.10 48.26,54.94 50.34,55.38 48.91,56.96 49.14,59.07 47.20,58.20 45.26,59.07 45.49,56.96 44.06,55.38 46.14,54.94" class="st"/><polygon points="34.80,59.00 35.86,60.84 37.94,61.28 36.51,62.86 36.74,64.97 34.80,64.10 32.86,64.97 33.09,62.86 31.66,61.28 33.74,60.84" class="st"/><polygon points="51.00,62.60 52.06,64.44 54.14,64.88 52.71,66.46 52.94,68.57 51.00,67.70 49.06,68.57 49.29,66.46 47.86,64.88 49.94,64.44" class="st"/><polygon points="72.20,74.30 73.26,76.14 75.34,76.58 73.91,78.16 74.14,80.27 72.20,79.40 70.26,80.27 70.49,78.16 69.06,76.58 71.14,76.14" class="st"/><g transform="translate(62 0) scale(0.95 1) translate(-62 0)"><text x="62" y="12.1" class="lblh" filter="url(#bl2)">Canis Major</text><text x="62" y="12.1" class="lbl">Canis Major</text></g></svg>
<svg class="cell" style="left:274.50px;top:210.75px" width="124" height="85" viewBox="0 0 124 85"><rect x="0" y="0" width="124" height="85" fill="#030313"/><rect x="2.7" y="2.5" width="118.8" height="79.8" fill="#181b4b"/><path d="M28.3 24.3L40.1 25.4 M40.1 25.4L45.9 31.7 M45.9 31.7L52.4 36.7 M52.4 36.7L69.5 39.5 M69.5 39.5L88.0 33.1 M88.0 33.1L97.4 48.6 M86.0 44.9L97.4 48.6 M69.5 39.5L65.0 47.9 M51.3 45.2L65.0 47.9 M52.4 36.7L51.3 45.2 M51.3 45.2L46.8 54.0 M46.8 54.0L51.7 64.5 M51.7 64.5L80.3 63.4 M80.3 63.4L80.6 52.0 M51.7 64.5L59.8 75.6 M51.7 64.5L66.1 72.5 M80.3 63.4L84.6 73.5 M80.3 63.4L91.5 69.5" stroke="#05061c" stroke-width="3.2" fill="none" stroke-linecap="round" opacity="0.8"/><path d="M28.3 24.3L40.1 25.4 M40.1 25.4L45.9 31.7 M45.9 31.7L52.4 36.7 M52.4 36.7L69.5 39.5 M69.5 39.5L88.0 33.1 M88.0 33.1L97.4 48.6 M86.0 44.9L97.4 48.6 M69.5 39.5L65.0 47.9 M51.3 45.2L65.0 47.9 M52.4 36.7L51.3 45.2 M51.3 45.2L46.8 54.0 M46.8 54.0L51.7 64.5 M51.7 64.5L80.3 63.4 M80.3 63.4L80.6 52.0 M51.7 64.5L59.8 75.6 M51.7 64.5L66.1 72.5 M80.3 63.4L84.6 73.5 M80.3 63.4L91.5 69.5" stroke="#2f5496" stroke-width="1.55" fill="none" stroke-linecap="round"/><g filter="url(#bl1)"><circle cx="28.3" cy="24.3" r="4.6" fill="#03041a"/><circle cx="40.1" cy="25.4" r="4.6" fill="#03041a"/><circle cx="45.9" cy="31.7" r="4.6" fill="#03041a"/><circle cx="52.4" cy="36.7" r="4.6" fill="#03041a"/><circle cx="69.5" cy="39.5" r="4.6" fill="#03041a"/><circle cx="88.0" cy="33.1" r="4.6" fill="#03041a"/><circle cx="97.4" cy="48.6" r="4.6" fill="#03041a"/><circle cx="86.0" cy="44.9" r="4.6" fill="#03041a"/><circle cx="51.3" cy="45.2" r="4.6" fill="#03041a"/><circle cx="65.0" cy="47.9" r="4.6" fill="#03041a"/><circle cx="46.8" cy="54.0" r="4.6" fill="#03041a"/><circle cx="80.6" cy="52.0" r="4.6" fill="#03041a"/><circle cx="51.7" cy="64.5" r="4.6" fill="#03041a"/><circle cx="80.3" cy="63.4" r="4.6" fill="#03041a"/><circle cx="59.8" cy="75.6" r="4.6" fill="#03041a"/><circle cx="66.1" cy="72.5" r="4.6" fill="#03041a"/><circle cx="84.6" cy="73.5" r="4.6" fill="#03041a"/><circle cx="91.5" cy="69.5" r="4.6" fill="#03041a"/></g><circle cx="28.3" cy="24.3" r="2.15" class="st"/><circle cx="40.1" cy="25.4" r="2.15" class="st"/><circle cx="45.9" cy="31.7" r="2.15" class="st"/><circle cx="52.4" cy="36.7" r="2.15" class="st"/><circle cx="69.5" cy="39.5" r="2.15" class="st"/><circle cx="88.0" cy="33.1" r="2.15" class="st"/><circle cx="97.4" cy="48.6" r="2.15" class="st"/><circle cx="86.0" cy="44.9" r="2.15" class="st"/><circle cx="51.3" cy="45.2" r="2.15" class="st"/><circle cx="65.0" cy="47.9" r="2.15" class="st"/><circle cx="46.8" cy="54.0" r="2.15" class="st"/><circle cx="80.6" cy="52.0" r="2.15" class="st"/><circle cx="51.7" cy="64.5" r="2.15" class="st"/><circle cx="80.3" cy="63.4" r="2.15" class="st"/><circle cx="59.8" cy="75.6" r="2.15" class="st"/><circle cx="66.1" cy="72.5" r="2.15" class="st"/><circle cx="84.6" cy="73.5" r="2.15" class="st"/><circle cx="91.5" cy="69.5" r="2.15" class="st"/><g transform="translate(62 0) scale(0.95 1) translate(-62 0)"><text x="62" y="12.1" class="lblh" filter="url(#bl2)">Ursa Major</text><text x="62" y="12.1" class="lbl">Ursa Major</text></g></svg>
<svg class="cell" style="left:22.00px;top:297.60px" width="124" height="85" viewBox="0 0 124 85"><rect x="0" y="0" width="124" height="85" fill="#030313"/><rect x="2.7" y="2.5" width="118.8" height="79.8" fill="#181b4b"/><path d="M57.4 25.4L58.4 43.9 M58.4 43.9L58.0 52.6 M58.0 52.6L49.7 67.1 M58.0 52.6L74.2 74.2" stroke="#05061c" stroke-width="3.2" fill="none" stroke-linecap="round" opacity="0.8"/><path d="M57.4 25.4L58.4 43.9 M58.4 43.9L58.0 52.6 M58.0 52.6L49.7 67.1 M58.0 52.6L74.2 74.2" stroke="#2f5496" stroke-width="1.55" fill="none" stroke-linecap="round"/><g filter="url(#bl1)"><circle cx="57.4" cy="25.4" r="4.6" fill="#03041a"/><circle cx="58.4" cy="43.9" r="4.6" fill="#03041a"/><circle cx="58.0" cy="52.6" r="4.6" fill="#03041a"/><circle cx="49.7" cy="67.1" r="4.6" fill="#03041a"/><circle cx="74.2" cy="74.2" r="4.6" fill="#03041a"/></g><polygon points="57.40,22.10 58.46,23.94 60.54,24.38 59.11,25.96 59.34,28.07 57.40,27.20 55.46,28.07 55.69,25.96 54.26,24.38 56.34,23.94" class="st"/><polygon points="58.40,40.60 59.46,42.44 61.54,42.88 60.11,44.46 60.34,46.57 58.40,45.70 56.46,46.57 56.69,44.46 55.26,42.88 57.34,42.44" class="st"/><polygon points="58.00,49.30 59.06,51.14 61.14,51.58 59.71,53.16 59.94,55.27 58.00,54.40 56.06,55.27 56.29,53.16 54.86,51.58 56.94,51.14" class="st"/><polygon points="49.70,63.80 50.76,65.64 52.84,66.08 51.41,67.66 51.64,69.77 49.70,68.90 47.76,69.77 47.99,67.66 46.56,66.08 48.64,65.64" class="st"/><polygon points="74.20,70.90 75.26,72.74 77.34,73.18 75.91,74.76 76.14,76.87 74.20,76.00 72.26,76.87 72.49,74.76 71.06,73.18 73.14,72.74" class="st"/><g transform="translate(62 0) scale(0.95 1) translate(-62 0)"><text x="62" y="12.1" class="lblh" filter="url(#bl2)">Cancer</text><text x="62" y="12.1" class="lbl">Cancer</text></g></svg>
<svg class="cell" style="left:148.25px;top:297.60px" width="124" height="85" viewBox="0 0 124 85"><rect x="0" y="0" width="124" height="85" fill="#030313"/><rect x="2.7" y="2.5" width="118.8" height="79.8" fill="#181b4b"/><path d="M49.9 22.7L39.8 28.7 M39.8 28.7L46.2 48.9 M46.2 48.9L53.0 56.4 M53.0 56.4L64.1 72.2 M64.1 72.2L56.0 78.3 M49.9 22.7L68.6 49.5 M68.6 49.5L77.9 60.7" stroke="#05061c" stroke-width="3.2" fill="none" stroke-linecap="round" opacity="0.8"/><path d="M49.9 22.7L39.8 28.7 M39.8 28.7L46.2 48.9 M46.2 48.9L53.0 56.4 M53.0 56.4L64.1 72.2 M64.1 72.2L56.0 78.3 M49.9 22.7L68.6 49.5 M68.6 49.5L77.9 60.7" stroke="#2f5496" stroke-width="1.55" fill="none" stroke-linecap="round"/><g filter="url(#bl1)"><circle cx="49.9" cy="22.7" r="4.6" fill="#03041a"/><circle cx="39.8" cy="28.7" r="4.6" fill="#03041a"/><circle cx="46.2" cy="48.9" r="4.6" fill="#03041a"/><circle cx="53.0" cy="56.4" r="4.6" fill="#03041a"/><circle cx="64.1" cy="72.2" r="4.6" fill="#03041a"/><circle cx="56.0" cy="78.3" r="4.6" fill="#03041a"/><circle cx="68.6" cy="49.5" r="4.6" fill="#03041a"/><circle cx="77.9" cy="60.7" r="4.6" fill="#03041a"/><circle cx="85.3" cy="61.8" r="4.6" fill="#03041a"/></g><circle cx="49.9" cy="22.7" r="2.15" class="st"/><circle cx="39.8" cy="28.7" r="2.15" class="st"/><circle cx="46.2" cy="48.9" r="2.15" class="st"/><circle cx="53.0" cy="56.4" r="2.15" class="st"/><circle cx="64.1" cy="72.2" r="2.15" class="st"/><circle cx="56.0" cy="78.3" r="2.15" class="st"/><circle cx="68.6" cy="49.5" r="2.15" class="st"/><circle cx="77.9" cy="60.7" r="2.15" class="st"/><circle cx="85.3" cy="61.8" r="2.15" class="st"/><g transform="translate(62 0) scale(0.95 1) translate(-62 0)"><text x="62" y="12.1" class="lblh" filter="url(#bl2)">Gemini</text><text x="62" y="12.1" class="lbl">Gemini</text></g></svg>
<svg class="cell" style="left:274.50px;top:297.60px" width="124" height="85" viewBox="0 0 124 85"><rect x="0" y="0" width="124" height="85" fill="#030313"/><rect x="2.7" y="2.5" width="118.8" height="79.8" fill="#181b4b"/><path d="M18.5 69.5L43.2 49.3 M18.5 69.5L43.9 65.5 M43.2 49.3L43.9 65.5 M43.9 65.5L95.1 68.8 M95.1 68.8L93.5 54.0 M93.5 54.0L81.9 46.6 M81.9 46.6L81.6 34.4 M81.6 34.4L98.5 23.6" stroke="#05061c" stroke-width="3.2" fill="none" stroke-linecap="round" opacity="0.8"/><path d="M18.5 69.5L43.2 49.3 M18.5 69.5L43.9 65.5 M43.2 49.3L43.9 65.5 M43.9 65.5L95.1 68.8 M95.1 68.8L93.5 54.0 M93.5 54.0L81.9 46.6 M81.9 46.6L81.6 34.4 M81.6 34.4L98.5 23.6" stroke="#2f5496" stroke-width="1.55" fill="none" stroke-linecap="round"/><g filter="url(#bl1)"><circle cx="18.5" cy="69.5" r="4.6" fill="#03041a"/><circle cx="43.2" cy="49.3" r="4.6" fill="#03041a"/><circle cx="43.9" cy="65.5" r="4.6" fill="#03041a"/><circle cx="95.1" cy="68.8" r="4.6" fill="#03041a"/><circle cx="93.5" cy="54.0" r="4.6" fill="#03041a"/><circle cx="81.9" cy="46.6" r="4.6" fill="#03041a"/><circle cx="81.6" cy="34.4" r="4.6" fill="#03041a"/><circle cx="98.5" cy="23.6" r="4.6" fill="#03041a"/><circle cx="105.0" cy="29.7" r="4.6" fill="#03041a"/></g><polygon points="18.50,66.20 19.56,68.04 21.64,68.48 20.21,70.06 20.44,72.17 18.50,71.30 16.56,72.17 16.79,70.06 15.36,68.48 17.44,68.04" class="st"/><polygon points="43.20,46.00 44.26,47.84 46.34,48.28 44.91,49.86 45.14,51.97 43.20,51.10 41.26,51.97 41.49,49.86 40.06,48.28 42.14,47.84" class="st"/><polygon points="43.90,62.20 44.96,64.04 47.04,64.48 45.61,66.06 45.84,68.17 43.90,67.30 41.96,68.17 42.19,66.06 40.76,64.48 42.84,64.04" class="st"/><polygon points="95.10,65.50 96.16,67.34 98.24,67.78 96.81,69.36 97.04,71.47 95.10,70.60 93.16,71.47 93.39,69.36 91.96,67.78 94.04,67.34" class="st"/><polygon points="93.50,50.70 94.56,52.54 96.64,52.98 95.21,54.56 95.44,56.67 93.50,55.80 91.56,56.67 91.79,54.56 90.36,52.98 92.44,52.54" class="st"/><polygon points="81.90,43.30 82.96,45.14 85.04,45.58 83.61,47.16 83.84,49.27 81.90,48.40 79.96,49.27 80.19,47.16 78.76,45.58 80.84,45.14" class="st"/><polygon points="81.60,31.10 82.66,32.94 84.74,33.38 83.31,34.96 83.54,37.07 81.60,36.20 79.66,37.07 79.89,34.96 78.46,33.38 80.54,32.94" class="st"/><polygon points="98.50,20.30 99.56,22.14 101.64,22.58 100.21,24.16 100.44,26.27 98.50,25.40 96.56,26.27 96.79,24.16 95.36,22.58 97.44,22.14" class="st"/><polygon points="105.00,26.40 106.06,28.24 108.14,28.68 106.71,30.26 106.94,32.37 105.00,31.50 103.06,32.37 103.29,30.26 101.86,28.68 103.94,28.24" class="st"/><g transform="translate(62 0) scale(0.95 1) translate(-62 0)"><text x="62" y="12.1" class="lblh" filter="url(#bl2)">Leo</text><text x="62" y="12.1" class="lbl">Leo</text></g></svg>
<svg class="cell" style="left:22.00px;top:384.45px" width="124" height="85" viewBox="0 0 124 85"><rect x="0" y="0" width="124" height="85" fill="#030313"/><rect x="2.7" y="2.5" width="118.8" height="79.8" fill="#181b4b"/><path d="M40.2 17.1L56.4 36.2 M56.4 36.2L62.5 46.3 M62.5 46.3L63.0 57.1 M28.1 29.4L53.0 53.3 M53.0 53.3L63.0 57.1 M63.0 57.1L70.2 66.5 M70.2 66.5L88.4 77.6" stroke="#05061c" stroke-width="3.2" fill="none" stroke-linecap="round" opacity="0.8"/><path d="M40.2 17.1L56.4 36.2 M56.4 36.2L62.5 46.3 M62.5 46.3L63.0 57.1 M28.1 29.4L53.0 53.3 M53.0 53.3L63.0 57.1 M63.0 57.1L70.2 66.5 M70.2 66.5L88.4 77.6" stroke="#2f5496" stroke-width="1.55" fill="none" stroke-linecap="round"/><g filter="url(#bl1)"><circle cx="40.2" cy="17.1" r="4.6" fill="#03041a"/><circle cx="28.1" cy="29.4" r="4.6" fill="#03041a"/><circle cx="56.4" cy="36.2" r="4.6" fill="#03041a"/><circle cx="62.5" cy="46.3" r="4.6" fill="#03041a"/><circle cx="53.0" cy="53.3" r="4.6" fill="#03041a"/><circle cx="63.0" cy="57.1" r="4.6" fill="#03041a"/><circle cx="70.2" cy="66.5" r="4.6" fill="#03041a"/><circle cx="88.4" cy="77.6" r="4.6" fill="#03041a"/></g><circle cx="40.2" cy="17.1" r="2.15" class="st"/><circle cx="28.1" cy="29.4" r="2.15" class="st"/><circle cx="56.4" cy="36.2" r="2.15" class="st"/><circle cx="62.5" cy="46.3" r="2.15" class="st"/><circle cx="53.0" cy="53.3" r="2.15" class="st"/><circle cx="63.0" cy="57.1" r="2.15" class="st"/><circle cx="70.2" cy="66.5" r="2.15" class="st"/><circle cx="88.4" cy="77.6" r="2.15" class="st"/><g transform="translate(62 0) scale(0.95 1) translate(-62 0)"><text x="62" y="12.1" class="lblh" filter="url(#bl2)">Taurus</text><text x="62" y="12.1" class="lbl">Taurus</text></g></svg>
<svg class="cell" style="left:148.25px;top:384.45px" width="124" height="85" viewBox="0 0 124 85"><rect x="0" y="0" width="124" height="85" fill="#030313"/><rect x="2.7" y="2.5" width="118.8" height="79.8" fill="#181b4b"/><path d="M62.1 23.2L53.7 28.6 M53.7 28.6L42.2 43.5 M42.2 43.5L26.3 59.8 M26.3 59.8L36.7 58.4 M36.7 58.4L52.0 57.4 M52.0 57.4L61.4 59.4 M61.4 59.4L77.9 62.8 M77.9 62.8L88.0 67.9 M88.0 67.9L96.5 65.9 M96.5 65.9L98.8 73.3 M98.8 73.3L92.2 76.9 M92.2 76.9L84.6 74.0 M84.6 74.0L88.0 67.9" stroke="#05061c" stroke-width="3.2" fill="none" stroke-linecap="round" opacity="0.8"/><path d="M62.1 23.2L53.7 28.6 M53.7 28.6L42.2 43.5 M42.2 43.5L26.3 59.8 M26.3 59.8L36.7 58.4 M36.7 58.4L52.0 57.4 M52.0 57.4L61.4 59.4 M61.4 59.4L77.9 62.8 M77.9 62.8L88.0 67.9 M88.0 67.9L96.5 65.9 M96.5 65.9L98.8 73.3 M98.8 73.3L92.2 76.9 M92.2 76.9L84.6 74.0 M84.6 74.0L88.0 67.9" stroke="#2f5496" stroke-width="1.55" fill="none" stroke-linecap="round"/><g filter="url(#bl1)"><circle cx="55.3" cy="19.6" r="4.6" fill="#03041a"/><circle cx="62.1" cy="23.2" r="4.6" fill="#03041a"/><circle cx="53.7" cy="28.6" r="4.6" fill="#03041a"/><circle cx="42.2" cy="43.5" r="4.6" fill="#03041a"/><circle cx="26.3" cy="59.8" r="4.6" fill="#03041a"/><circle cx="36.7" cy="58.4" r="4.6" fill="#03041a"/><circle cx="52.0" cy="57.4" r="4.6" fill="#03041a"/><circle cx="61.4" cy="59.4" r="4.6" fill="#03041a"/><circle cx="77.9" cy="62.8" r="4.6" fill="#03041a"/><circle cx="88.0" cy="67.9" r="4.6" fill="#03041a"/><circle cx="96.5" cy="65.9" r="4.6" fill="#03041a"/><circle cx="98.8" cy="73.3" r="4.6" fill="#03041a"/><circle cx="92.2" cy="76.9" r="4.6" fill="#03041a"/><circle cx="84.6" cy="74.0" r="4.6" fill="#03041a"/></g><circle cx="55.3" cy="19.6" r="2.15" class="st"/><circle cx="62.1" cy="23.2" r="2.15" class="st"/><circle cx="53.7" cy="28.6" r="2.15" class="st"/><circle cx="42.2" cy="43.5" r="2.15" class="st"/><circle cx="26.3" cy="59.8" r="2.15" class="st"/><circle cx="36.7" cy="58.4" r="2.15" class="st"/><circle cx="52.0" cy="57.4" r="2.15" class="st"/><circle cx="61.4" cy="59.4" r="2.15" class="st"/><circle cx="77.9" cy="62.8" r="2.15" class="st"/><circle cx="88.0" cy="67.9" r="2.15" class="st"/><circle cx="96.5" cy="65.9" r="2.15" class="st"/><circle cx="98.8" cy="73.3" r="2.15" class="st"/><circle cx="92.2" cy="76.9" r="2.15" class="st"/><circle cx="84.6" cy="74.0" r="2.15" class="st"/><g transform="translate(62 0) scale(0.95 1) translate(-62 0)"><text x="62" y="12.1" class="lblh" filter="url(#bl2)">Pisces</text><text x="62" y="12.1" class="lbl">Pisces</text></g></svg>
<svg class="cell" style="left:274.50px;top:384.45px" width="124" height="85" viewBox="0 0 124 85"><rect x="0" y="0" width="124" height="85" fill="#030313"/><rect x="2.7" y="2.5" width="118.8" height="79.8" fill="#181b4b"/><path d="M65.0 25.9L66.8 44.5 M76.9 30.4L66.8 44.5 M47.0 35.1L57.1 43.2 M57.1 43.2L49.7 56.4 M66.8 44.5L62.1 55.1 M62.1 55.1L61.8 66.1 M49.7 56.4L36.2 61.4 M49.7 56.4L61.8 66.1 M36.2 61.4L25.9 71.5 M36.2 61.4L42.9 70.4 M42.9 70.4L35.1 78.0 M61.8 66.1L48.3 75.3" stroke="#05061c" stroke-width="3.2" fill="none" stroke-linecap="round" opacity="0.8"/><path d="M65.0 25.9L66.8 44.5 M76.9 30.4L66.8 44.5 M47.0 35.1L57.1 43.2 M57.1 43.2L49.7 56.4 M66.8 44.5L62.1 55.1 M62.1 55.1L61.8 66.1 M49.7 56.4L36.2 61.4 M49.7 56.4L61.8 66.1 M36.2 61.4L25.9 71.5 M36.2 61.4L42.9 70.4 M42.9 70.4L35.1 78.0 M61.8 66.1L48.3 75.3" stroke="#2f5496" stroke-width="1.55" fill="none" stroke-linecap="round"/><g filter="url(#bl1)"><circle cx="72.2" cy="20.9" r="4.6" fill="#03041a"/><circle cx="65.0" cy="25.9" r="4.6" fill="#03041a"/><circle cx="76.9" cy="30.4" r="4.6" fill="#03041a"/><circle cx="47.0" cy="35.1" r="4.6" fill="#03041a"/><circle cx="57.1" cy="43.2" r="4.6" fill="#03041a"/><circle cx="66.8" cy="44.5" r="4.6" fill="#03041a"/><circle cx="62.1" cy="55.1" r="4.6" fill="#03041a"/><circle cx="49.7" cy="56.4" r="4.6" fill="#03041a"/><circle cx="36.2" cy="61.4" r="4.6" fill="#03041a"/><circle cx="61.8" cy="66.1" r="4.6" fill="#03041a"/><circle cx="25.9" cy="71.5" r="4.6" fill="#03041a"/><circle cx="42.9" cy="70.4" r="4.6" fill="#03041a"/><circle cx="48.3" cy="75.3" r="4.6" fill="#03041a"/><circle cx="35.1" cy="78.0" r="4.6" fill="#03041a"/></g><circle cx="72.2" cy="20.9" r="2.15" class="st"/><circle cx="65.0" cy="25.9" r="2.15" class="st"/><circle cx="76.9" cy="30.4" r="2.15" class="st"/><circle cx="47.0" cy="35.1" r="2.15" class="st"/><circle cx="57.1" cy="43.2" r="2.15" class="st"/><circle cx="66.8" cy="44.5" r="2.15" class="st"/><circle cx="62.1" cy="55.1" r="2.15" class="st"/><circle cx="49.7" cy="56.4" r="2.15" class="st"/><circle cx="36.2" cy="61.4" r="2.15" class="st"/><circle cx="61.8" cy="66.1" r="2.15" class="st"/><circle cx="25.9" cy="71.5" r="2.15" class="st"/><circle cx="42.9" cy="70.4" r="2.15" class="st"/><circle cx="48.3" cy="75.3" r="2.15" class="st"/><circle cx="35.1" cy="78.0" r="2.15" class="st"/><g transform="translate(62 0) scale(0.95 1) translate(-62 0)"><text x="62" y="12.1" class="lblh" filter="url(#bl2)">Virgo</text><text x="62" y="12.1" class="lbl">Virgo</text></g></svg>
<svg class="cell" style="left:22.00px;top:471.30px" width="124" height="85" viewBox="0 0 124 85"><rect x="0" y="0" width="124" height="85" fill="#030313"/><rect x="2.7" y="2.5" width="118.8" height="79.8" fill="#181b4b"/><path d="M49.0 20.0L52.0 35.4 M52.0 35.4L49.7 52.6 M49.7 52.6L76.9 77.2 M76.9 77.2L79.9 67.9 M79.9 67.9L80.3 59.1" stroke="#05061c" stroke-width="3.2" fill="none" stroke-linecap="round" opacity="0.8"/><path d="M49.0 20.0L52.0 35.4 M52.0 35.4L49.7 52.6 M49.7 52.6L76.9 77.2 M76.9 77.2L79.9 67.9 M79.9 67.9L80.3 59.1" stroke="#2f5496" stroke-width="1.55" fill="none" stroke-linecap="round"/><g filter="url(#bl1)"><circle cx="49.0" cy="20.0" r="4.6" fill="#03041a"/><circle cx="52.0" cy="35.4" r="4.6" fill="#03041a"/><circle cx="49.7" cy="52.6" r="4.6" fill="#03041a"/><circle cx="76.9" cy="77.2" r="4.6" fill="#03041a"/><circle cx="79.9" cy="67.9" r="4.6" fill="#03041a"/><circle cx="80.3" cy="59.1" r="4.6" fill="#03041a"/></g><circle cx="49.0" cy="20.0" r="2.15" class="st"/><circle cx="52.0" cy="35.4" r="2.15" class="st"/><circle cx="49.7" cy="52.6" r="2.15" class="st"/><circle cx="76.9" cy="77.2" r="2.15" class="st"/><circle cx="79.9" cy="67.9" r="2.15" class="st"/><circle cx="80.3" cy="59.1" r="2.15" class="st"/><g transform="translate(62 0) scale(0.95 1) translate(-62 0)"><text x="62" y="12.1" class="lblh" filter="url(#bl2)">Lyra</text><text x="62" y="12.1" class="lbl">Lyra</text></g></svg>
<svg class="cell" style="left:148.25px;top:471.30px" width="124" height="85" viewBox="0 0 124 85"><rect x="0" y="0" width="124" height="85" fill="#030313"/><rect x="2.7" y="2.5" width="118.8" height="79.8" fill="#181b4b"/><path d="M103.2 22.3L101.9 33.7 M101.9 33.7L96.9 45.6 M101.9 33.7L84.3 34.4 M84.3 34.4L76.2 35.8 M76.2 35.8L69.1 39.1 M69.1 39.1L53.3 50.6 M53.3 50.6L46.3 62.1 M46.3 62.1L39.1 74.2 M39.1 74.2L28.6 72.5 M28.6 72.5L16.2 65.9 M16.2 65.9L12.4 55.1" stroke="#05061c" stroke-width="3.2" fill="none" stroke-linecap="round" opacity="0.8"/><path d="M103.2 22.3L101.9 33.7 M101.9 33.7L96.9 45.6 M101.9 33.7L84.3 34.4 M84.3 34.4L76.2 35.8 M76.2 35.8L69.1 39.1 M69.1 39.1L53.3 50.6 M53.3 50.6L46.3 62.1 M46.3 62.1L39.1 74.2 M39.1 74.2L28.6 72.5 M28.6 72.5L16.2 65.9 M16.2 65.9L12.4 55.1" stroke="#2f5496" stroke-width="1.55" fill="none" stroke-linecap="round"/><g filter="url(#bl1)"><circle cx="103.2" cy="22.3" r="4.6" fill="#03041a"/><circle cx="101.9" cy="33.7" r="4.6" fill="#03041a"/><circle cx="96.9" cy="45.6" r="4.6" fill="#03041a"/><circle cx="84.3" cy="34.4" r="4.6" fill="#03041a"/><circle cx="76.2" cy="35.8" r="4.6" fill="#03041a"/><circle cx="69.1" cy="39.1" r="4.6" fill="#03041a"/><circle cx="53.3" cy="50.6" r="4.6" fill="#03041a"/><circle cx="46.3" cy="62.1" r="4.6" fill="#03041a"/><circle cx="39.1" cy="74.2" r="4.6" fill="#03041a"/><circle cx="28.6" cy="72.5" r="4.6" fill="#03041a"/><circle cx="16.2" cy="65.9" r="4.6" fill="#03041a"/><circle cx="12.4" cy="55.1" r="4.6" fill="#03041a"/><circle cx="19.6" cy="51.0" r="4.6" fill="#03041a"/><circle cx="28.3" cy="47.6" r="4.6" fill="#03041a"/></g><polygon points="103.20,19.00 104.26,20.84 106.34,21.28 104.91,22.86 105.14,24.97 103.20,24.10 101.26,24.97 101.49,22.86 100.06,21.28 102.14,20.84" class="st"/><polygon points="101.90,30.40 102.96,32.24 105.04,32.68 103.61,34.26 103.84,36.37 101.90,35.50 99.96,36.37 100.19,34.26 98.76,32.68 100.84,32.24" class="st"/><polygon points="96.90,42.30 97.96,44.14 100.04,44.58 98.61,46.16 98.84,48.27 96.90,47.40 94.96,48.27 95.19,46.16 93.76,44.58 95.84,44.14" class="st"/><polygon points="84.30,31.10 85.36,32.94 87.44,33.38 86.01,34.96 86.24,37.07 84.30,36.20 82.36,37.07 82.59,34.96 81.16,33.38 83.24,32.94" class="st"/><polygon points="76.20,32.50 77.26,34.34 79.34,34.78 77.91,36.36 78.14,38.47 76.20,37.60 74.26,38.47 74.49,36.36 73.06,34.78 75.14,34.34" class="st"/><polygon points="69.10,35.80 70.16,37.64 72.24,38.08 70.81,39.66 71.04,41.77 69.10,40.90 67.16,41.77 67.39,39.66 65.96,38.08 68.04,37.64" class="st"/><polygon points="53.30,47.30 54.36,49.14 56.44,49.58 55.01,51.16 55.24,53.27 53.30,52.40 51.36,53.27 51.59,51.16 50.16,49.58 52.24,49.14" class="st"/><polygon points="46.30,58.80 47.36,60.64 49.44,61.08 48.01,62.66 48.24,64.77 46.30,63.90 44.36,64.77 44.59,62.66 43.16,61.08 45.24,60.64" class="st"/><polygon points="39.10,70.90 40.16,72.74 42.24,73.18 40.81,74.76 41.04,76.87 39.10,76.00 37.16,76.87 37.39,74.76 35.96,73.18 38.04,72.74" class="st"/><polygon points="28.60,69.20 29.66,71.04 31.74,71.48 30.31,73.06 30.54,75.17 28.60,74.30 26.66,75.17 26.89,73.06 25.46,71.48 27.54,71.04" class="st"/><polygon points="16.20,62.60 17.26,64.44 19.34,64.88 17.91,66.46 18.14,68.57 16.20,67.70 14.26,68.57 14.49,66.46 13.06,64.88 15.14,64.44" class="st"/><polygon points="12.40,51.80 13.46,53.64 15.54,54.08 14.11,55.66 14.34,57.77 12.40,56.90 10.46,57.77 10.69,55.66 9.26,54.08 11.34,53.64" class="st"/><polygon points="19.60,47.70 20.66,49.54 22.74,49.98 21.31,51.56 21.54,53.67 19.60,52.80 17.66,53.67 17.89,51.56 16.46,49.98 18.54,49.54" class="st"/><polygon points="28.30,44.30 29.36,46.14 31.44,46.58 30.01,48.16 30.24,50.27 28.30,49.40 26.36,50.27 26.59,48.16 25.16,46.58 27.24,46.14" class="st"/><g transform="translate(62 0) scale(0.95 1) translate(-62 0)"><text x="62" y="12.1" class="lblh" filter="url(#bl2)">Scorpio</text><text x="62" y="12.1" class="lbl">Scorpio</text></g></svg>
<svg class="cell" style="left:274.50px;top:471.30px" width="124" height="85" viewBox="0 0 124 85"><rect x="0" y="0" width="124" height="85" fill="#030313"/><rect x="2.7" y="2.5" width="118.8" height="79.8" fill="#181b4b"/><path d="M30.0 22.3L51.3 42.1 M51.3 42.1L71.5 58.3 M71.5 58.3L85.0 75.3 M87.0 36.2L71.5 58.3 M71.5 58.3L51.0 77.6" stroke="#05061c" stroke-width="3.2" fill="none" stroke-linecap="round" opacity="0.8"/><path d="M30.0 22.3L51.3 42.1 M51.3 42.1L71.5 58.3 M71.5 58.3L85.0 75.3 M87.0 36.2L71.5 58.3 M71.5 58.3L51.0 77.6" stroke="#2f5496" stroke-width="1.55" fill="none" stroke-linecap="round"/><g filter="url(#bl1)"><circle cx="30.0" cy="22.3" r="4.6" fill="#03041a"/><circle cx="51.3" cy="42.1" r="4.6" fill="#03041a"/><circle cx="71.5" cy="58.3" r="4.6" fill="#03041a"/><circle cx="85.0" cy="75.3" r="4.6" fill="#03041a"/><circle cx="87.0" cy="36.2" r="4.6" fill="#03041a"/><circle cx="51.0" cy="77.6" r="4.6" fill="#03041a"/></g><circle cx="30.0" cy="22.3" r="2.15" class="st"/><circle cx="51.3" cy="42.1" r="2.15" class="st"/><circle cx="71.5" cy="58.3" r="2.15" class="st"/><circle cx="85.0" cy="75.3" r="2.15" class="st"/><circle cx="87.0" cy="36.2" r="2.15" class="st"/><circle cx="51.0" cy="77.6" r="2.15" class="st"/><g transform="translate(62 0) scale(0.95 1) translate(-62 0)"><text x="62" y="12.1" class="lblh" filter="url(#bl2)">Cygnus</text><text x="62" y="12.1" class="lbl">Cygnus</text></g></svg>
<div class="abs title" style="top:42.63px;left:0.00px;width:419.00px;text-align:center;text-align-last:center;">Northern Hemisphere</div><div class="abs title" style="top:70.93px;left:0.00px;width:419.00px;text-align:center;text-align-last:center;">Constellation Spotting Checklist</div><div class="abs para" style="top:106.55px;left:21.00px;width:378.50px;text-align:justify;text-align-last:justify;">How many of these stunning constellations can you spot in the night sky?</div><div class="abs para" style="top:121.05px;left:21.00px;width:378.50px;text-align:left;text-align-last:left;letter-spacing:0;">You may need to use a star chart in combination with this checklist.</div><div class="abs para" style="top:141.45px;left:21.00px;width:378.50px;text-align:justify;text-align-last:justify;"><b>Warning:</b> These constellations will all be visible in the sky above the Northern</div><div class="abs para" style="top:156.25px;left:21.00px;width:378.50px;text-align:justify;text-align-last:justify;">Hemisphere at some point in the year but only a few will be visible for the</div><div class="abs para" style="top:171.15px;left:21.00px;width:378.50px;text-align:justify;text-align-last:justify;">entire year. You will need patience and an extended period of time to complete</div><div class="abs para" style="top:185.65px;left:21.00px;width:378.50px;text-align:left;text-align-last:left;letter-spacing:0;">your checklist.</div>
<div class="fline" style="left:20px;top:567px;width:379px"></div>
<div class="pg" style="left:0;width:419px;text-align:center;top:578px">Page 1 of 4</div>
<div class="visit" style="left:334.5px;top:579px">visit twinkl.com</div>
<svg style="position:absolute;left:20.5px;top:570.5px" width="34" height="22" viewBox="0 0 34 22">
<path d="M1.5 9.5 C0.5 5.5 4.5 3.5 8 4.5 C10 1 15 -0.5 19 2 C22 0 26.5 1.5 27 4 C31.5 2.5 34 6 32 9 C33 12.5 30 15 27.5 14.5 C26.5 18.5 21 20.5 17.5 18.5 C14 21.5 7.5 20.5 6.5 17 C2 17 -0.5 13 1.5 9.5 Z" fill="#0c1f86"/>
<path d="M5 10 C5 6 10 4 14 5 C17 3 24 3.5 26 6.5 C29 8 28.5 13 25 14 C22 17 14 17.5 11 15.5 C7 15.5 5 13 5 10Z" fill="#1b52a8"/>
<text x="16.3" y="13" font-family="Liberation Sans" font-weight="bold" font-size="8.6" fill="#fff" stroke="#fff" stroke-width="0.45" text-anchor="middle" letter-spacing="-0.3">twinkl</text>
</svg>
<svg style="position:absolute;left:377px;top:570px" width="25" height="23" viewBox="0 0 25 23">
<rect x="0.5" y="0.5" width="21.5" height="21.5" fill="#fff" stroke="#b5d3ef" stroke-width="0.7"/>
<path d="M2.3 8.5 C1 5.5 4 3 7 4 C8.5 1 13 0.8 15 2.5 C17.5 1.5 21 3.5 20.5 6.5 C22 8.5 20.5 11.5 18 11.5 C16.5 14 12.5 14.5 11 12.5 C8.5 14.5 4.5 13.5 4.5 11.5 C2.5 11.5 1.5 10 2.3 8.5Z" fill="#0d2680"/>
<text x="11.3" y="9.6" font-family="Liberation Sans" font-weight="bold" font-size="5" fill="#fff" text-anchor="middle">twinkl</text>
<rect x="3" y="15.3" width="16" height="0.9" fill="#8fb5e0"/>
<rect x="6" y="18.3" width="9" height="0.9" fill="#8fb5e0"/>
<path d="M16.5 19.5 L18.3 21.3 L23.5 16" stroke="#0d2680" stroke-width="1.5" fill="none" stroke-linecap="round" stroke-linejoin="round"/>
</svg>
</div>
<div style="position:absolute;left:287px;width:155px;top:18px;height:1px;background:#04083a;z-index:10"></div>
<div style="position:absolute;left:287px;width:155px;top:612px;height:1px;background:#04083a;z-index:10"></div>
<div style="position:absolute;left:552px;width:155px;top:18px;height:1px;background:#04083a;z-index:10"></div>
<div style="position:absolute;left:552px;width:155px;top:612px;height:1px;background:#04083a;z-index:10"></div>
<div style="position:absolute;left:818px;width:154px;top:18px;height:1px;background:#04083a;z-index:10"></div>
<div style="position:absolute;left:818px;width:154px;top:612px;height:1px;background:#04083a;z-index:10"></div>
<div style="position:absolute;left:966px;top:530.5px;width:300px;height:65.5px;box-sizing:border-box;background:#7aab40;border:2px solid #1f8a12;border-right:none;border-radius:4px 0 0 4px;z-index:20"></div>
<svg style="position:absolute;left:966px;top:530px;z-index:21" width="180" height="66" viewBox="966 530 180 66"><text x="985.5" y="573.7" font-family="Liberation Sans" font-size="33" fill="#fff" stroke="#239512" stroke-width="2.6" paint-order="stroke" stroke-linejoin="round" transform="translate(985.5 0) scale(0.965 1) translate(-985.5 0)">ink saving</text><text x="985.5" y="573.7" font-family="Liberation Sans" font-size="33" fill="#fff" stroke="#fff" stroke-width="0.3" transform="translate(985.5 0) scale(0.965 1) translate(-985.5 0)">ink saving</text></svg>
<svg style="position:absolute;left:1140px;top:476px;z-index:22" width="90" height="145" viewBox="1140 476 90 145">
<path d="M1184.6 481.5 L1210 530 C1218 545 1223 553 1223 566 C1223 588 1206 602 1184.6 602 C1163 602 1146.2 588 1146.2 566 C1146.2 553 1151.2 545 1159.2 530 Z" fill="#8fc243" stroke="#5da51f" stroke-width="1.5" stroke-linejoin="round"/>
<rect x="1183.5" y="532" width="4" height="71" fill="#c4e29a" opacity="0.75"/>
<rect x="1183.5" y="602" width="4" height="13" fill="#99cc3a"/>
<text x="1186" y="571.5" font-family="Liberation Sans" font-weight="bold" font-size="31" fill="#fff" stroke="#3a9a16" stroke-width="3" paint-order="stroke" stroke-linejoin="round" text-anchor="middle" transform="translate(1186 0) scale(0.92 1) translate(-1186 0)">Eco</text><text x="1186" y="571.5" font-family="Liberation Sans" font-weight="bold" font-size="31" fill="#fff" stroke="#fff" stroke-width="0.6" stroke-linejoin="round" text-anchor="middle" transform="translate(1186 0) scale(0.92 1) translate(-1186 0)">Eco</text><rect x="1184" y="560" width="3" height="43" fill="#d8edb8" opacity="0.35"/>
</svg>
</body></html>
